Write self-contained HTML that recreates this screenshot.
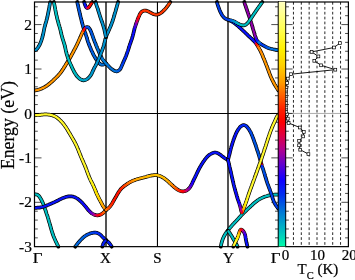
<!DOCTYPE html>
<html lang="en"><head><meta charset="utf-8"><title>Band structure</title>
<style>html,body{margin:0;padding:0;background:#fff;overflow:hidden}svg{display:block}</style></head>
<body>
<svg width="355" height="280" viewBox="0 0 355 280">
<defs><clipPath id="cp"><rect x="34.5" y="-0.5" width="243.8" height="249.65"/></clipPath>
<linearGradient id="cb" x1="0" y1="0" x2="0" y2="1"><stop offset="0.0000" stop-color="#ffffc0"/><stop offset="0.1144" stop-color="#ffff50"/><stop offset="0.1962" stop-color="#fff000"/><stop offset="0.2616" stop-color="#ffd000"/><stop offset="0.3270" stop-color="#ffa000"/><stop offset="0.3842" stop-color="#ff6000"/><stop offset="0.4414" stop-color="#ff2000"/><stop offset="0.4905" stop-color="#ff0000"/><stop offset="0.5436" stop-color="#e00040"/><stop offset="0.6049" stop-color="#b00090"/><stop offset="0.6663" stop-color="#6000d0"/><stop offset="0.7276" stop-color="#1000ff"/><stop offset="0.7889" stop-color="#0030f0"/><stop offset="0.8502" stop-color="#0070d8"/><stop offset="0.9115" stop-color="#00a8c8"/><stop offset="0.9646" stop-color="#00d8b8"/><stop offset="1.0002" stop-color="#00ffa8"/></linearGradient></defs>
<rect width="355" height="280" fill="#fff"/>
<g stroke="#000" stroke-width="0.85" stroke-dasharray="2.7,2.2"><line x1="293.45" y1="2.0" x2="293.45" y2="246.65"/><line x1="301.30" y1="2.0" x2="301.30" y2="246.65"/><line x1="309.15" y1="2.0" x2="309.15" y2="246.65"/><line x1="317.00" y1="2.0" x2="317.00" y2="246.65"/><line x1="324.85" y1="2.0" x2="324.85" y2="246.65"/><line x1="332.70" y1="2.0" x2="332.70" y2="246.65"/><line x1="340.55" y1="2.0" x2="340.55" y2="246.65"/></g>
<g stroke="#000" stroke-width="1">
<line x1="106.0" y1="2.0" x2="106.0" y2="246.65" stroke-width="1.35"/>
<line x1="157.45" y1="2.0" x2="157.45" y2="246.65" stroke-width="1.1"/>
<line x1="228.0" y1="2.0" x2="228.0" y2="246.65" stroke-width="1.35"/>
<line x1="34.5" y1="113.5" x2="278.3" y2="113.5"/>
</g>
<line x1="285.6" y1="113.45" x2="348.4" y2="113.45" stroke="#777" stroke-width="0.6"/>
<g stroke="#000" stroke-width="0.7"><line x1="34.5" y1="237.85" x2="37.8" y2="237.85"/><line x1="278.3" y1="237.85" x2="275.0" y2="237.85"/><line x1="285.6" y1="237.85" x2="288.90000000000003" y2="237.85"/><line x1="348.4" y1="237.85" x2="345.09999999999997" y2="237.85"/><line x1="34.5" y1="228.97" x2="37.8" y2="228.97"/><line x1="278.3" y1="228.97" x2="275.0" y2="228.97"/><line x1="285.6" y1="228.97" x2="288.90000000000003" y2="228.97"/><line x1="348.4" y1="228.97" x2="345.09999999999997" y2="228.97"/><line x1="34.5" y1="220.08" x2="37.8" y2="220.08"/><line x1="278.3" y1="220.08" x2="275.0" y2="220.08"/><line x1="285.6" y1="220.08" x2="288.90000000000003" y2="220.08"/><line x1="348.4" y1="220.08" x2="345.09999999999997" y2="220.08"/><line x1="34.5" y1="211.20" x2="37.8" y2="211.20"/><line x1="278.3" y1="211.20" x2="275.0" y2="211.20"/><line x1="285.6" y1="211.20" x2="288.90000000000003" y2="211.20"/><line x1="348.4" y1="211.20" x2="345.09999999999997" y2="211.20"/><line x1="34.5" y1="202.31" x2="41.5" y2="202.31"/><line x1="278.3" y1="202.31" x2="271.3" y2="202.31"/><line x1="285.6" y1="202.31" x2="292.6" y2="202.31"/><line x1="348.4" y1="202.31" x2="341.4" y2="202.31"/><line x1="34.5" y1="193.42" x2="37.8" y2="193.42"/><line x1="278.3" y1="193.42" x2="275.0" y2="193.42"/><line x1="285.6" y1="193.42" x2="288.90000000000003" y2="193.42"/><line x1="348.4" y1="193.42" x2="345.09999999999997" y2="193.42"/><line x1="34.5" y1="184.54" x2="37.8" y2="184.54"/><line x1="278.3" y1="184.54" x2="275.0" y2="184.54"/><line x1="285.6" y1="184.54" x2="288.90000000000003" y2="184.54"/><line x1="348.4" y1="184.54" x2="345.09999999999997" y2="184.54"/><line x1="34.5" y1="175.65" x2="37.8" y2="175.65"/><line x1="278.3" y1="175.65" x2="275.0" y2="175.65"/><line x1="285.6" y1="175.65" x2="288.90000000000003" y2="175.65"/><line x1="348.4" y1="175.65" x2="345.09999999999997" y2="175.65"/><line x1="34.5" y1="166.77" x2="37.8" y2="166.77"/><line x1="278.3" y1="166.77" x2="275.0" y2="166.77"/><line x1="285.6" y1="166.77" x2="288.90000000000003" y2="166.77"/><line x1="348.4" y1="166.77" x2="345.09999999999997" y2="166.77"/><line x1="34.5" y1="157.88" x2="41.5" y2="157.88"/><line x1="278.3" y1="157.88" x2="271.3" y2="157.88"/><line x1="285.6" y1="157.88" x2="292.6" y2="157.88"/><line x1="348.4" y1="157.88" x2="341.4" y2="157.88"/><line x1="34.5" y1="148.99" x2="37.8" y2="148.99"/><line x1="278.3" y1="148.99" x2="275.0" y2="148.99"/><line x1="285.6" y1="148.99" x2="288.90000000000003" y2="148.99"/><line x1="348.4" y1="148.99" x2="345.09999999999997" y2="148.99"/><line x1="34.5" y1="140.11" x2="37.8" y2="140.11"/><line x1="278.3" y1="140.11" x2="275.0" y2="140.11"/><line x1="285.6" y1="140.11" x2="288.90000000000003" y2="140.11"/><line x1="348.4" y1="140.11" x2="345.09999999999997" y2="140.11"/><line x1="34.5" y1="131.22" x2="37.8" y2="131.22"/><line x1="278.3" y1="131.22" x2="275.0" y2="131.22"/><line x1="285.6" y1="131.22" x2="288.90000000000003" y2="131.22"/><line x1="348.4" y1="131.22" x2="345.09999999999997" y2="131.22"/><line x1="34.5" y1="122.34" x2="37.8" y2="122.34"/><line x1="278.3" y1="122.34" x2="275.0" y2="122.34"/><line x1="285.6" y1="122.34" x2="288.90000000000003" y2="122.34"/><line x1="348.4" y1="122.34" x2="345.09999999999997" y2="122.34"/><line x1="34.5" y1="113.45" x2="41.5" y2="113.45"/><line x1="278.3" y1="113.45" x2="271.3" y2="113.45"/><line x1="285.6" y1="113.45" x2="292.6" y2="113.45"/><line x1="348.4" y1="113.45" x2="341.4" y2="113.45"/><line x1="34.5" y1="104.56" x2="37.8" y2="104.56"/><line x1="278.3" y1="104.56" x2="275.0" y2="104.56"/><line x1="285.6" y1="104.56" x2="288.90000000000003" y2="104.56"/><line x1="348.4" y1="104.56" x2="345.09999999999997" y2="104.56"/><line x1="34.5" y1="95.68" x2="37.8" y2="95.68"/><line x1="278.3" y1="95.68" x2="275.0" y2="95.68"/><line x1="285.6" y1="95.68" x2="288.90000000000003" y2="95.68"/><line x1="348.4" y1="95.68" x2="345.09999999999997" y2="95.68"/><line x1="34.5" y1="86.79" x2="37.8" y2="86.79"/><line x1="278.3" y1="86.79" x2="275.0" y2="86.79"/><line x1="285.6" y1="86.79" x2="288.90000000000003" y2="86.79"/><line x1="348.4" y1="86.79" x2="345.09999999999997" y2="86.79"/><line x1="34.5" y1="77.91" x2="37.8" y2="77.91"/><line x1="278.3" y1="77.91" x2="275.0" y2="77.91"/><line x1="285.6" y1="77.91" x2="288.90000000000003" y2="77.91"/><line x1="348.4" y1="77.91" x2="345.09999999999997" y2="77.91"/><line x1="34.5" y1="69.02" x2="41.5" y2="69.02"/><line x1="278.3" y1="69.02" x2="271.3" y2="69.02"/><line x1="285.6" y1="69.02" x2="292.6" y2="69.02"/><line x1="348.4" y1="69.02" x2="341.4" y2="69.02"/><line x1="34.5" y1="60.13" x2="37.8" y2="60.13"/><line x1="278.3" y1="60.13" x2="275.0" y2="60.13"/><line x1="285.6" y1="60.13" x2="288.90000000000003" y2="60.13"/><line x1="348.4" y1="60.13" x2="345.09999999999997" y2="60.13"/><line x1="34.5" y1="51.25" x2="37.8" y2="51.25"/><line x1="278.3" y1="51.25" x2="275.0" y2="51.25"/><line x1="285.6" y1="51.25" x2="288.90000000000003" y2="51.25"/><line x1="348.4" y1="51.25" x2="345.09999999999997" y2="51.25"/><line x1="34.5" y1="42.36" x2="37.8" y2="42.36"/><line x1="278.3" y1="42.36" x2="275.0" y2="42.36"/><line x1="285.6" y1="42.36" x2="288.90000000000003" y2="42.36"/><line x1="348.4" y1="42.36" x2="345.09999999999997" y2="42.36"/><line x1="34.5" y1="33.48" x2="37.8" y2="33.48"/><line x1="278.3" y1="33.48" x2="275.0" y2="33.48"/><line x1="285.6" y1="33.48" x2="288.90000000000003" y2="33.48"/><line x1="348.4" y1="33.48" x2="345.09999999999997" y2="33.48"/><line x1="34.5" y1="24.59" x2="41.5" y2="24.59"/><line x1="278.3" y1="24.59" x2="271.3" y2="24.59"/><line x1="285.6" y1="24.59" x2="292.6" y2="24.59"/><line x1="348.4" y1="24.59" x2="341.4" y2="24.59"/><line x1="34.5" y1="15.70" x2="37.8" y2="15.70"/><line x1="278.3" y1="15.70" x2="275.0" y2="15.70"/><line x1="285.6" y1="15.70" x2="288.90000000000003" y2="15.70"/><line x1="348.4" y1="15.70" x2="345.09999999999997" y2="15.70"/><line x1="34.5" y1="6.82" x2="37.8" y2="6.82"/><line x1="278.3" y1="6.82" x2="275.0" y2="6.82"/><line x1="285.6" y1="6.82" x2="288.90000000000003" y2="6.82"/><line x1="348.4" y1="6.82" x2="345.09999999999997" y2="6.82"/></g>
<g clip-path="url(#cp)">
<path d="M34.5,194.3 35.5,194.4 36.5,194.5 37.5,194.8 38.3,195.4 39,196.1 39.6,196.9 40.1,197.8 40.7,198.7 41.2,199.5 41.6,200.4 42.1,201.3 42.5,202.2 42.9,203.1 43.3,204 43.6,205 44,205.9 44.3,206.8 44.6,207.8 44.9,208.7 45.3,209.7 45.6,210.7 45.9,211.6 46.2,212.5 46.5,213.5 46.8,214.4 47.2,215.4 47.5,216.3 47.8,217.3 48.1,218.3 48.4,219.2 48.6,220.2 48.9,221.1 49.2,222.1 49.5,223 49.8,224 50,225 50.3,225.9 50.6,226.9 50.9,227.9 51.1,228.8 51.4,229.8 51.7,230.7 52,231.7 52.3,232.7 52.6,233.6 52.9,234.5 53.3,235.5 53.6,236.4 54,237.3 54.4,238.3 54.8,239.2 55.2,240.1 55.6,241 56,241.9 56.5,242.8 56.9,243.7 57.3,244.6 57.8,245.5 58.2,246.4 58.3,246.7" stroke="#000" stroke-width="3.7" fill="none" stroke-linejoin="round" stroke-linecap="round"/>
<path d="M34.5,194.3 35.5,194.4 36.5,194.5 37.5,194.8 38.3,195.4 39,196.1 39.6,196.9 40.1,197.8 40.7,198.7 41.2,199.5 41.6,200.4 42.1,201.3 42.5,202.2 42.9,203.1 43.3,204 43.6,205 44,205.9 44.3,206.8 44.6,207.8 44.9,208.7 45.3,209.7 45.6,210.7 45.9,211.6 46.2,212.5 46.5,213.5 46.8,214.4 47.2,215.4 47.5,216.3 47.8,217.3 48.1,218.3 48.4,219.2 48.6,220.2 48.9,221.1 49.2,222.1 49.5,223 49.8,224 50,225 50.3,225.9 50.6,226.9 50.9,227.9 51.1,228.8 51.4,229.8 51.7,230.7 52,231.7 52.3,232.7 52.6,233.6 52.9,234.5 53.3,235.5 53.6,236.4 54,237.3 54.4,238.3 54.8,239.2 55.2,240.1 55.6,241 56,241.9 56.5,242.8 56.9,243.7 57.3,244.6 57.8,245.5 58.2,246.4 58.3,246.7" stroke="#00bec1" stroke-width="2.25" fill="none" stroke-linejoin="round" stroke-linecap="butt"/>
<path d="M278.3,194.6 277.3,194.6 276.3,194.6 275.3,194.6 274.3,194.7 273.3,194.8 272.3,194.9 271.3,195 270.3,195.2 269.3,195.4 268.3,195.6 267.3,195.9 266.4,196.2 265.4,196.5 264.5,196.8 263.5,197.2 262.6,197.6 261.7,198 260.8,198.5 259.9,198.9 259,199.5 258.2,200 257.4,200.6 256.6,201.2 255.8,201.8 255,202.4 254.2,203.1 253.4,203.7 252.7,204.4 252,205.1 251.2,205.8 250.5,206.5 249.8,207.1 249,207.8 248.3,208.5 247.6,209.2 246.8,209.9 246.1,210.6 245.4,211.3 244.6,212 243.9,212.7 243.2,213.4 242.5,214.1 241.8,214.8 241.1,215.6 240.5,216.3 239.8,217.1 239.1,217.8 238.4,218.6 237.8,219.3 237.1,220 236.4,220.8 235.7,221.5 235,222.2 234.3,222.9 233.6,223.7 232.9,224.4 232.2,225.2 231.6,225.9 230.9,226.7 230.3,227.4 229.6,228.2 229,229 228.4,229.8 227.8,230.6 227.1,231.4 226.5,232.2 226,233 225.4,233.9 224.9,234.7 224.4,235.6 223.9,236.5 223.5,237.4 223.1,238.3 222.7,239.2 222.4,240.2 222.1,241.2 221.8,242.1 221.5,243.1 221.3,244.1 221.1,245.1 220.9,246.1 220.8,246.7" stroke="#000" stroke-width="3.7" fill="none" stroke-linejoin="round" stroke-linecap="round"/>
<path d="M278.3,194.6 277.3,194.6 276.3,194.6 275.3,194.6 274.3,194.7 273.3,194.8 272.3,194.9 271.3,195 270.3,195.2 269.3,195.4 268.3,195.6 267.3,195.9 266.4,196.2 265.4,196.5 264.5,196.8 263.5,197.2 262.6,197.6 261.7,198 260.8,198.5 259.9,198.9 259,199.5 258.2,200 257.4,200.6 256.6,201.2 255.8,201.8 255,202.4 254.2,203.1 253.4,203.7 252.7,204.4 252,205.1 251.2,205.8 250.5,206.5 249.8,207.1 249,207.8 248.3,208.5 247.6,209.2 246.8,209.9 246.1,210.6 245.4,211.3 244.6,212 243.9,212.7 243.2,213.4 242.5,214.1 241.8,214.8 241.1,215.6 240.5,216.3 239.8,217.1 239.1,217.8 238.4,218.6 237.8,219.3 237.1,220 236.4,220.8 235.7,221.5 235,222.2 234.3,222.9 233.6,223.7 232.9,224.4 232.2,225.2 231.6,225.9 230.9,226.7 230.3,227.4 229.6,228.2 229,229 228.4,229.8 227.8,230.6 227.1,231.4 226.5,232.2 226,233 225.4,233.9 224.9,234.7 224.4,235.6 223.9,236.5 223.5,237.4 223.1,238.3 222.7,239.2 222.4,240.2 222.1,241.2 221.8,242.1 221.5,243.1 221.3,244.1 221.1,245.1 220.9,246.1 220.8,246.7" stroke="#00bec1" stroke-width="2.25" fill="none" stroke-linejoin="round" stroke-linecap="butt"/>
<path d="M227.9,230.4 228.5,231.2 229,232.1 229.6,232.9 230.2,233.8 230.7,234.6 231.3,235.5 231.8,236.3 232.3,237.2 232.8,238.1 233.3,239 233.8,239.8 234.3,240.7 234.8,241.6 235.3,242.5 235.8,243.4 236.3,244.3 236.8,245.1 237.3,246 237.6,246.7" stroke="#000" stroke-width="3.7" fill="none" stroke-linejoin="round" stroke-linecap="round"/>
<path d="M227.9,230.4 228.5,231.2 229,232.1 229.6,232.9 230.2,233.8 230.7,234.6 231.3,235.5 231.8,236.3 232.3,237.2 232.8,238.1 233.3,239 233.8,239.8 234.3,240.7 234.8,241.6 235.3,242.5 235.8,243.4 236.3,244.3 236.8,245.1 237.3,246 237.6,246.7" stroke="#00bec1" stroke-width="2.25" fill="none" stroke-linejoin="round" stroke-linecap="butt"/>
<path d="M34.5,207.8 35.5,207.8 36.5,207.8 37.5,207.7 38.5,207.7 39.5,207.6 40.5,207.4 41.5,207.2 42.5,207 43.4,206.7 44.4,206.4 45.4,206 46.3,205.7 47.2,205.3 48.2,204.9 49.1,204.5 50,204.1 50.9,203.7 51.9,203.3 52.8,202.9 53.7,202.5 54.6,202.1 55.5,201.6 56.4,201.2 57.3,200.8 58.2,200.3 59.1,199.8 60,199.4 60.9,199 61.8,198.5 62.7,198.1 63.7,197.7 64.6,197.4 65.6,197.1 66.6,196.8 67.5,196.6 68.5,196.4 69.5,196.3 70.6,196.3 71.6,196.4 72.6,196.5 73.5,196.8 74.5,197.1 75.4,197.5 76.3,198 77.2,198.5 78,199.1 78.8,199.7 79.6,200.4 80.3,201 81.1,201.7 81.8,202.4 82.5,203.1 83.2,203.9 83.8,204.6 84.5,205.4 85.1,206.1 85.8,206.9 86.4,207.7 87,208.5 87.7,209.3 88.3,210.1 89,210.8 89.7,211.5 90.4,212.2 91.2,212.9 92,213.5 92.9,214 93.8,214.5 94.7,214.9 95.7,215.1 96.7,215.3 97.7,215.3 98.7,215.2 99.7,214.9 100.7,214.6 101.6,214.1 102.4,213.5 103.2,212.9 103.9,212.2 104.6,211.5 105.3,210.8 106,210" stroke="#000" stroke-width="3.7" fill="none" stroke-linejoin="round" stroke-linecap="round"/>
<path d="M34.5,207.8 35.5,207.8 36.5,207.8 37.5,207.7 38.5,207.7 39.5,207.6 40.5,207.4 41.5,207.2 42.5,207 43.4,206.7 44.4,206.4 45.4,206 46.3,205.7 47.2,205.3 48.2,204.9 49.1,204.5 50,204.1 50.9,203.7 51.9,203.3 52.8,202.9 53.7,202.5 54.6,202.1 55.5,201.6 56.4,201.2 57.3,200.8 58.2,200.3 59.1,199.8 60,199.4 60.9,199 61.8,198.5 62.7,198.1 63.7,197.7 64.6,197.4 65.6,197.1 66.6,196.8 67.5,196.6 68.5,196.4 69.5,196.3 70.6,196.3 71.6,196.4 72.6,196.5 73.5,196.8 74.5,197.1 75.4,197.5 76.3,198 77.2,198.5 78,199.1 78.8,199.7 79.6,200.4 80.3,201 81.1,201.7 81.8,202.4 82.5,203.1 83.2,203.9" stroke="#0a13f9" stroke-width="2.25" fill="none" stroke-linejoin="round" stroke-linecap="butt"/>
<path d="M83.2,203.9 83.8,204.6 84.5,205.4 85.1,206.1 85.8,206.9" stroke="#0d0afc" stroke-width="2.25" fill="none" stroke-linejoin="round" stroke-linecap="round"/>
<path d="M85.8,206.9 86.4,207.7 87,208.5" stroke="#1000ff" stroke-width="2.25" fill="none" stroke-linejoin="round" stroke-linecap="round"/>
<path d="M87,208.5 87.7,209.3 88.3,210.1 89,210.8" stroke="#2000f6" stroke-width="2.25" fill="none" stroke-linejoin="round" stroke-linecap="round"/>
<path d="M89,210.8 89.7,211.5" stroke="#3000ec" stroke-width="2.25" fill="none" stroke-linejoin="round" stroke-linecap="round"/>
<path d="M89.7,211.5 90.4,212.2" stroke="#4000e3" stroke-width="2.25" fill="none" stroke-linejoin="round" stroke-linecap="round"/>
<path d="M90.4,212.2 91.2,212.9" stroke="#5000d9" stroke-width="2.25" fill="none" stroke-linejoin="round" stroke-linecap="round"/>
<path d="M91.2,212.9 92,213.5" stroke="#6000d0" stroke-width="2.25" fill="none" stroke-linejoin="round" stroke-linecap="round"/>
<path d="M92,213.5 92.9,214" stroke="#7000c3" stroke-width="2.25" fill="none" stroke-linejoin="round" stroke-linecap="round"/>
<path d="M92.9,214 93.8,214.5" stroke="#8000b6" stroke-width="2.25" fill="none" stroke-linejoin="round" stroke-linecap="round"/>
<path d="M93.8,214.5 94.7,214.9" stroke="#a0009d" stroke-width="2.25" fill="none" stroke-linejoin="round" stroke-linecap="round"/>
<path d="M94.7,214.9 95.7,215.1" stroke="#ba0080" stroke-width="2.25" fill="none" stroke-linejoin="round" stroke-linecap="round"/>
<path d="M95.7,215.1 96.7,215.3" stroke="#cd0060" stroke-width="2.25" fill="none" stroke-linejoin="round" stroke-linecap="round"/>
<path d="M96.7,215.3 97.7,215.3" stroke="#e00040" stroke-width="2.25" fill="none" stroke-linejoin="round" stroke-linecap="round"/>
<path d="M97.7,215.3 98.7,215.2" stroke="#ee0022" stroke-width="2.25" fill="none" stroke-linejoin="round" stroke-linecap="round"/>
<path d="M98.7,215.2 99.7,214.9" stroke="#fd0005" stroke-width="2.25" fill="none" stroke-linejoin="round" stroke-linecap="round"/>
<path d="M99.7,214.9 100.7,214.6" stroke="#ff0d00" stroke-width="2.25" fill="none" stroke-linejoin="round" stroke-linecap="round"/>
<path d="M100.7,214.6 101.6,214.1" stroke="#ff1500" stroke-width="2.25" fill="none" stroke-linejoin="round" stroke-linecap="round"/>
<path d="M101.6,214.1 102.4,213.5" stroke="#ff2900" stroke-width="2.25" fill="none" stroke-linejoin="round" stroke-linecap="round"/>
<path d="M102.4,213.5 103.2,212.9" stroke="#ff4500" stroke-width="2.25" fill="none" stroke-linejoin="round" stroke-linecap="round"/>
<path d="M103.2,212.9 103.9,212.2" stroke="#ff5200" stroke-width="2.25" fill="none" stroke-linejoin="round" stroke-linecap="round"/>
<path d="M103.9,212.2 104.6,211.5" stroke="#ff6000" stroke-width="2.25" fill="none" stroke-linejoin="round" stroke-linecap="round"/>
<path d="M104.6,211.5 105.3,210.8" stroke="#ff6e00" stroke-width="2.25" fill="none" stroke-linejoin="round" stroke-linecap="round"/>
<path d="M105.3,210.8 106,210" stroke="#ff7b00" stroke-width="2.25" fill="none" stroke-linejoin="round" stroke-linecap="round"/>
<path d="M34.5,115.3 35.5,115.2 36.5,115.1 37.5,115 38.5,115 39.5,114.9 40.5,114.8 41.5,114.7 42.5,114.6 43.5,114.5 44.5,114.4 45.5,114.4 46.5,114.4 47.5,114.5 48.5,114.6 49.5,114.7 50.5,114.9 51.5,115.1 52.5,115.4 53.4,115.7 54.3,116.1 55.2,116.5 56.1,117 56.9,117.6 57.7,118.2 58.5,118.8 59.3,119.5 60,120.2 60.7,120.9 61.4,121.6 62.1,122.4 62.8,123.1 63.4,123.9 64,124.7 64.6,125.5 65.2,126.3 65.8,127.1 66.3,128 66.9,128.8 67.4,129.7 67.9,130.5 68.4,131.4 68.9,132.3 69.5,133.1 70,134 70.5,134.9 71,135.7 71.5,136.6 72,137.5 72.5,138.3 73,139.2 73.5,140.1 74,140.9 74.5,141.8 74.9,142.7 75.4,143.6 75.9,144.5 76.3,145.4 76.7,146.3 77.1,147.2 77.5,148.1 77.9,149.1 78.3,150 78.7,150.9 79,151.9 79.4,152.8 79.8,153.7 80.2,154.7 80.5,155.6 80.9,156.5 81.3,157.4 81.7,158.4 82.1,159.3 82.5,160.2 82.9,161.1 83.3,162 83.7,163 84.1,163.9 84.5,164.8 84.9,165.7 85.3,166.7 85.6,167.6 86,168.5 86.4,169.5 86.7,170.4 87,171.4 87.4,172.3 87.7,173.3 88.1,174.2 88.5,175.1 88.8,176.1 89.2,177 89.6,177.9 90,178.8 90.4,179.7 90.8,180.6 91.3,181.5 91.7,182.4 92.2,183.3 92.6,184.2 93.1,185.1 93.5,186.1 93.9,187 94.3,187.9 94.7,188.8 95.1,189.7 95.5,190.7 95.8,191.6 96.2,192.5 96.6,193.5 97,194.4 97.5,195.3 97.9,196.2 98.3,197.1 98.8,198 99.2,198.9 99.7,199.8 100.2,200.7 100.6,201.5 101.1,202.4 101.6,203.3 102,204.2 102.5,205.1 103,206 103.6,206.8 104.1,207.6 104.7,208.4 105.4,209.2 106,210" stroke="#000" stroke-width="3.7" fill="none" stroke-linejoin="round" stroke-linecap="round"/>
<path d="M34.5,115.3 35.5,115.2 36.5,115.1 37.5,115 38.5,115 39.5,114.9 40.5,114.8 41.5,114.7 42.5,114.6 43.5,114.5 44.5,114.4 45.5,114.4 46.5,114.4 47.5,114.5 48.5,114.6 49.5,114.7 50.5,114.9 51.5,115.1 52.5,115.4 53.4,115.7 54.3,116.1 55.2,116.5 56.1,117 56.9,117.6 57.7,118.2 58.5,118.8 59.3,119.5 60,120.2 60.7,120.9 61.4,121.6 62.1,122.4 62.8,123.1 63.4,123.9 64,124.7 64.6,125.5 65.2,126.3 65.8,127.1 66.3,128 66.9,128.8 67.4,129.7 67.9,130.5 68.4,131.4 68.9,132.3 69.5,133.1 70,134 70.5,134.9 71,135.7 71.5,136.6 72,137.5 72.5,138.3 73,139.2 73.5,140.1 74,140.9 74.5,141.8 74.9,142.7 75.4,143.6 75.9,144.5 76.3,145.4 76.7,146.3 77.1,147.2 77.5,148.1 77.9,149.1 78.3,150 78.7,150.9 79,151.9 79.4,152.8 79.8,153.7 80.2,154.7 80.5,155.6 80.9,156.5 81.3,157.4 81.7,158.4 82.1,159.3 82.5,160.2 82.9,161.1 83.3,162 83.7,163 84.1,163.9 84.5,164.8 84.9,165.7 85.3,166.7 85.6,167.6 86,168.5 86.4,169.5 86.7,170.4 87,171.4 87.4,172.3 87.7,173.3 88.1,174.2 88.5,175.1 88.8,176.1 89.2,177 89.6,177.9 90,178.8 90.4,179.7 90.8,180.6" stroke="#fff82c" stroke-width="2.25" fill="none" stroke-linejoin="round" stroke-linecap="butt"/>
<path d="M90.8,180.6 91.3,181.5 91.7,182.4 92.2,183.3 92.6,184.2" stroke="#fff620" stroke-width="2.25" fill="none" stroke-linejoin="round" stroke-linecap="round"/>
<path d="M92.6,184.2 93.1,185.1 93.5,186.1 93.9,187" stroke="#fff414" stroke-width="2.25" fill="none" stroke-linejoin="round" stroke-linecap="round"/>
<path d="M93.9,187 94.3,187.9 94.7,188.8" stroke="#fff208" stroke-width="2.25" fill="none" stroke-linejoin="round" stroke-linecap="round"/>
<path d="M94.7,188.8 95.1,189.7 95.5,190.7" stroke="#ffee00" stroke-width="2.25" fill="none" stroke-linejoin="round" stroke-linecap="round"/>
<path d="M95.5,190.7 95.8,191.6 96.2,192.5 96.6,193.5" stroke="#ffe800" stroke-width="2.25" fill="none" stroke-linejoin="round" stroke-linecap="round"/>
<path d="M96.6,193.5 97,194.4 97.5,195.3" stroke="#ffe200" stroke-width="2.25" fill="none" stroke-linejoin="round" stroke-linecap="round"/>
<path d="M97.5,195.3 97.9,196.2" stroke="#ffdc00" stroke-width="2.25" fill="none" stroke-linejoin="round" stroke-linecap="round"/>
<path d="M97.9,196.2 98.3,197.1 98.8,198" stroke="#ffd600" stroke-width="2.25" fill="none" stroke-linejoin="round" stroke-linecap="round"/>
<path d="M98.8,198 99.2,198.9 99.7,199.8" stroke="#ffd000" stroke-width="2.25" fill="none" stroke-linejoin="round" stroke-linecap="round"/>
<path d="M99.7,199.8 100.2,200.7" stroke="#ffc700" stroke-width="2.25" fill="none" stroke-linejoin="round" stroke-linecap="round"/>
<path d="M100.2,200.7 100.6,201.5 101.1,202.4" stroke="#ffbe00" stroke-width="2.25" fill="none" stroke-linejoin="round" stroke-linecap="round"/>
<path d="M101.1,202.4 101.6,203.3 102,204.2" stroke="#ffb500" stroke-width="2.25" fill="none" stroke-linejoin="round" stroke-linecap="round"/>
<path d="M102,204.2 102.5,205.1 103,206" stroke="#ffac00" stroke-width="2.25" fill="none" stroke-linejoin="round" stroke-linecap="round"/>
<path d="M103,206 103.6,206.8 104.1,207.6" stroke="#ffa300" stroke-width="2.25" fill="none" stroke-linejoin="round" stroke-linecap="round"/>
<path d="M104.1,207.6 104.7,208.4 105.4,209.2" stroke="#ff9700" stroke-width="2.25" fill="none" stroke-linejoin="round" stroke-linecap="round"/>
<path d="M105.4,209.2 106,210" stroke="#ff8900" stroke-width="2.25" fill="none" stroke-linejoin="round" stroke-linecap="round"/>
<path d="M106,210 106.8,209.4 107.6,208.8 108.4,208.2 109.1,207.5 109.8,206.8 110.4,206 111,205.2 111.6,204.3 112.1,203.5 112.6,202.6 113.1,201.7 113.6,200.8 114.1,199.9 114.6,199.1 115.1,198.2 115.6,197.3 116.1,196.5 116.6,195.6 117.1,194.7 117.6,193.8 118.1,193 118.6,192.1 119.2,191.3 119.8,190.5 120.4,189.7 121,188.9 121.7,188.2 122.4,187.5 123.2,186.9 124,186.2 124.8,185.6 125.6,185.1 126.4,184.5 127.3,183.9 128.1,183.3 129,182.8 129.8,182.3 130.7,181.8 131.6,181.4 132.5,180.9 133.4,180.6 134.4,180.2 135.3,179.8 136.3,179.5 137.2,179.2 138.2,178.9 139.1,178.7 140.1,178.4 141.1,178.2 142,177.9 143,177.7 144,177.4 145,177.2 146,176.9 146.9,176.6 147.9,176.4 148.9,176.1 149.9,175.8 150.9,175.6 151.9,175.4 152.9,175.3 153.9,175.2 154.9,175.1 155.9,175.1 156.9,175.2 157.9,175.4 158.8,175.7 159.8,176 160.7,176.4 161.6,176.8 162.5,177.3 163.4,177.8 164.2,178.3 165,178.9 165.8,179.5 166.6,180.2 167.4,180.8 168.1,181.5 168.9,182.2 169.6,182.9 170.3,183.6 171,184.2 171.8,184.9 172.5,185.6 173.3,186.2 174,186.9 174.8,187.5 175.6,188.2 176.4,188.8 177.2,189.4 178.1,189.9 179,190.4 179.9,190.8 180.9,191.1 181.9,191.3 182.9,191.3 183.9,191.3 184.9,191.1 185.8,190.8 186.7,190.3 187.6,189.7 188.4,189.1 189.1,188.4 189.7,187.6 190.3,186.8 190.8,185.9 191.3,185.1 191.8,184.2 192.2,183.3 192.6,182.3 193,181.4 193.5,180.5 193.9,179.6 194.3,178.7 194.8,177.8 195.2,176.9 195.6,176 196.1,175.1 196.5,174.2 196.9,173.3 197.3,172.4 197.8,171.5 198.2,170.6 198.7,169.7 199.1,168.8 199.6,167.9 200.1,167 200.6,166.2 201.1,165.3 201.6,164.4 202.2,163.6 202.7,162.7 203.2,161.9 203.8,161.1 204.4,160.3 205,159.4 205.6,158.7 206.2,157.9 206.9,157.1 207.6,156.4 208.3,155.7 209.1,155.1 209.9,154.5 210.8,154 211.7,153.5 212.6,153.1 213.6,152.7 214.5,152.5 215.5,152.5 216.5,152.7 217.5,153.1 218.4,153.5 219.3,154.1 220.1,154.6 220.9,155.2 221.7,155.9 222.5,156.5 223.3,157.1 224.1,157.7 224.9,158.2 225.8,158.8 226.7,159.2 227.5,159.7 228,159.9" stroke="#000" stroke-width="3.7" fill="none" stroke-linejoin="round" stroke-linecap="round"/>
<path d="M106,210 106.8,209.4" stroke="#ff7b00" stroke-width="2.25" fill="none" stroke-linejoin="round" stroke-linecap="round"/>
<path d="M106.8,209.4 107.6,208.8" stroke="#ff6e00" stroke-width="2.25" fill="none" stroke-linejoin="round" stroke-linecap="round"/>
<path d="M107.6,208.8 108.4,208.2" stroke="#ff6000" stroke-width="2.25" fill="none" stroke-linejoin="round" stroke-linecap="round"/>
<path d="M108.4,208.2 109.1,207.5" stroke="#ff5200" stroke-width="2.25" fill="none" stroke-linejoin="round" stroke-linecap="round"/>
<path d="M109.1,207.5 109.8,206.8 110.4,206" stroke="#ff4500" stroke-width="2.25" fill="none" stroke-linejoin="round" stroke-linecap="round"/>
<path d="M110.4,206 111,205.2 111.6,204.3" stroke="#ff3700" stroke-width="2.25" fill="none" stroke-linejoin="round" stroke-linecap="round"/>
<path d="M111.6,204.3 112.1,203.5 112.6,202.6" stroke="#ff2900" stroke-width="2.25" fill="none" stroke-linejoin="round" stroke-linecap="round"/>
<path d="M112.6,202.6 113.1,201.7 113.6,200.8" stroke="#ff1d00" stroke-width="2.25" fill="none" stroke-linejoin="round" stroke-linecap="round"/>
<path d="M113.6,200.8 114.1,199.9 114.6,199.1 115.1,198.2 115.6,197.3 116.1,196.5 116.6,195.6 117.1,194.7" stroke="#ff1500" stroke-width="2.25" fill="none" stroke-linejoin="round" stroke-linecap="round"/>
<path d="M117.1,194.7 117.6,193.8 118.1,193" stroke="#ff0d00" stroke-width="2.25" fill="none" stroke-linejoin="round" stroke-linecap="round"/>
<path d="M118.1,193 118.6,192.1 119.2,191.3 119.8,190.5" stroke="#ff1500" stroke-width="2.25" fill="none" stroke-linejoin="round" stroke-linecap="round"/>
<path d="M119.8,190.5 120.4,189.7 121,188.9 121.7,188.2" stroke="#ff1d00" stroke-width="2.25" fill="none" stroke-linejoin="round" stroke-linecap="round"/>
<path d="M121.7,188.2 122.4,187.5 123.2,186.9" stroke="#ff2900" stroke-width="2.25" fill="none" stroke-linejoin="round" stroke-linecap="round"/>
<path d="M123.2,186.9 124,186.2 124.8,185.6" stroke="#ff3700" stroke-width="2.25" fill="none" stroke-linejoin="round" stroke-linecap="round"/>
<path d="M124.8,185.6 125.6,185.1" stroke="#ff4500" stroke-width="2.25" fill="none" stroke-linejoin="round" stroke-linecap="round"/>
<path d="M125.6,185.1 126.4,184.5 127.3,183.9" stroke="#ff5200" stroke-width="2.25" fill="none" stroke-linejoin="round" stroke-linecap="round"/>
<path d="M127.3,183.9 128.1,183.3" stroke="#ff6000" stroke-width="2.25" fill="none" stroke-linejoin="round" stroke-linecap="round"/>
<path d="M128.1,183.3 129,182.8 129.8,182.3" stroke="#ff6e00" stroke-width="2.25" fill="none" stroke-linejoin="round" stroke-linecap="round"/>
<path d="M129.8,182.3 130.7,181.8 131.6,181.4" stroke="#ff7b00" stroke-width="2.25" fill="none" stroke-linejoin="round" stroke-linecap="round"/>
<path d="M131.6,181.4 132.5,180.9 133.4,180.6" stroke="#ff8900" stroke-width="2.25" fill="none" stroke-linejoin="round" stroke-linecap="round"/>
<path d="M133.4,180.6 134.4,180.2 135.3,179.8" stroke="#ff9700" stroke-width="2.25" fill="none" stroke-linejoin="round" stroke-linecap="round"/>
<path d="M135.3,179.8 136.3,179.5 137.2,179.2" stroke="#ffa300" stroke-width="2.25" fill="none" stroke-linejoin="round" stroke-linecap="round"/>
<path d="M137.2,179.2 138.2,178.9 139.1,178.7 140.1,178.4 141.1,178.2 142,177.9" stroke="#ffac00" stroke-width="2.25" fill="none" stroke-linejoin="round" stroke-linecap="round"/>
<path d="M142,177.9 143,177.7 144,177.4 145,177.2 146,176.9 146.9,176.6 147.9,176.4" stroke="#ffb500" stroke-width="2.25" fill="none" stroke-linejoin="round" stroke-linecap="round"/>
<path d="M147.9,176.4 148.9,176.1 149.9,175.8 150.9,175.6 151.9,175.4 152.9,175.3 153.9,175.2 154.9,175.1 155.9,175.1" stroke="#ffbe00" stroke-width="2.25" fill="none" stroke-linejoin="round" stroke-linecap="round"/>
<path d="M155.9,175.1 156.9,175.2 157.9,175.4 158.8,175.7" stroke="#ffc700" stroke-width="2.25" fill="none" stroke-linejoin="round" stroke-linecap="round"/>
<path d="M158.8,175.7 159.8,176 160.7,176.4 161.6,176.8 162.5,177.3 163.4,177.8 164.2,178.3" stroke="#ffbe00" stroke-width="2.25" fill="none" stroke-linejoin="round" stroke-linecap="round"/>
<path d="M164.2,178.3 165,178.9 165.8,179.5 166.6,180.2 167.4,180.8" stroke="#ffb500" stroke-width="2.25" fill="none" stroke-linejoin="round" stroke-linecap="round"/>
<path d="M167.4,180.8 168.1,181.5 168.9,182.2" stroke="#ffac00" stroke-width="2.25" fill="none" stroke-linejoin="round" stroke-linecap="round"/>
<path d="M168.9,182.2 169.6,182.9 170.3,183.6" stroke="#ffa300" stroke-width="2.25" fill="none" stroke-linejoin="round" stroke-linecap="round"/>
<path d="M170.3,183.6 171,184.2 171.8,184.9" stroke="#ff9700" stroke-width="2.25" fill="none" stroke-linejoin="round" stroke-linecap="round"/>
<path d="M171.8,184.9 172.5,185.6 173.3,186.2" stroke="#ff8900" stroke-width="2.25" fill="none" stroke-linejoin="round" stroke-linecap="round"/>
<path d="M173.3,186.2 174,186.9" stroke="#ff7b00" stroke-width="2.25" fill="none" stroke-linejoin="round" stroke-linecap="round"/>
<path d="M174,186.9 174.8,187.5 175.6,188.2" stroke="#ff6e00" stroke-width="2.25" fill="none" stroke-linejoin="round" stroke-linecap="round"/>
<path d="M175.6,188.2 176.4,188.8" stroke="#ff6000" stroke-width="2.25" fill="none" stroke-linejoin="round" stroke-linecap="round"/>
<path d="M176.4,188.8 177.2,189.4" stroke="#ff5200" stroke-width="2.25" fill="none" stroke-linejoin="round" stroke-linecap="round"/>
<path d="M177.2,189.4 178.1,189.9" stroke="#ff4500" stroke-width="2.25" fill="none" stroke-linejoin="round" stroke-linecap="round"/>
<path d="M178.1,189.9 179,190.4" stroke="#ff3700" stroke-width="2.25" fill="none" stroke-linejoin="round" stroke-linecap="round"/>
<path d="M179,190.4 179.9,190.8" stroke="#ff2900" stroke-width="2.25" fill="none" stroke-linejoin="round" stroke-linecap="round"/>
<path d="M179.9,190.8 180.9,191.1" stroke="#ff1d00" stroke-width="2.25" fill="none" stroke-linejoin="round" stroke-linecap="round"/>
<path d="M180.9,191.1 181.9,191.3" stroke="#ff1500" stroke-width="2.25" fill="none" stroke-linejoin="round" stroke-linecap="round"/>
<path d="M181.9,191.3 182.9,191.3" stroke="#ff0500" stroke-width="2.25" fill="none" stroke-linejoin="round" stroke-linecap="round"/>
<path d="M182.9,191.3 183.9,191.3" stroke="#fd0005" stroke-width="2.25" fill="none" stroke-linejoin="round" stroke-linecap="round"/>
<path d="M183.9,191.3 184.9,191.1" stroke="#f50014" stroke-width="2.25" fill="none" stroke-linejoin="round" stroke-linecap="round"/>
<path d="M184.9,191.1 185.8,190.8" stroke="#e70031" stroke-width="2.25" fill="none" stroke-linejoin="round" stroke-linecap="round"/>
<path d="M185.8,190.8 186.7,190.3" stroke="#d60050" stroke-width="2.25" fill="none" stroke-linejoin="round" stroke-linecap="round"/>
<path d="M186.7,190.3 187.6,189.7" stroke="#c30070" stroke-width="2.25" fill="none" stroke-linejoin="round" stroke-linecap="round"/>
<path d="M187.6,189.7 188.4,189.1" stroke="#b00090" stroke-width="2.25" fill="none" stroke-linejoin="round" stroke-linecap="round"/>
<path d="M188.4,189.1 189.1,188.4" stroke="#a0009d" stroke-width="2.25" fill="none" stroke-linejoin="round" stroke-linecap="round"/>
<path d="M189.1,188.4 189.7,187.6" stroke="#8000b6" stroke-width="2.25" fill="none" stroke-linejoin="round" stroke-linecap="round"/>
<path d="M189.7,187.6 190.3,186.8" stroke="#7000c3" stroke-width="2.25" fill="none" stroke-linejoin="round" stroke-linecap="round"/>
<path d="M190.3,186.8 190.8,185.9" stroke="#6000d0" stroke-width="2.25" fill="none" stroke-linejoin="round" stroke-linecap="round"/>
<path d="M190.8,185.9 191.3,185.1" stroke="#5000d9" stroke-width="2.25" fill="none" stroke-linejoin="round" stroke-linecap="round"/>
<path d="M191.3,185.1 191.8,184.2" stroke="#4000e3" stroke-width="2.25" fill="none" stroke-linejoin="round" stroke-linecap="round"/>
<path d="M191.8,184.2 192.2,183.3" stroke="#3000ec" stroke-width="2.25" fill="none" stroke-linejoin="round" stroke-linecap="round"/>
<path d="M192.2,183.3 192.6,182.3 193,181.4" stroke="#2000f6" stroke-width="2.25" fill="none" stroke-linejoin="round" stroke-linecap="round"/>
<path d="M193,181.4 193.5,180.5 193.9,179.6" stroke="#1000ff" stroke-width="2.25" fill="none" stroke-linejoin="round" stroke-linecap="round"/>
<path d="M193.9,179.6 194.3,178.7 194.8,177.8 195.2,176.9" stroke="#0d0afc" stroke-width="2.25" fill="none" stroke-linejoin="round" stroke-linecap="round"/>
<path d="M195.2,176.9 195.6,176 196.1,175.1 196.5,174.2 196.9,173.3 197.3,172.4 197.8,171.5 198.2,170.6 198.7,169.7 199.1,168.8 199.6,167.9 200.1,167 200.6,166.2 201.1,165.3 201.6,164.4 202.2,163.6 202.7,162.7 203.2,161.9 203.8,161.1 204.4,160.3 205,159.4 205.6,158.7 206.2,157.9 206.9,157.1 207.6,156.4 208.3,155.7 209.1,155.1 209.9,154.5 210.8,154 211.7,153.5 212.6,153.1 213.6,152.7 214.5,152.5 215.5,152.5 216.5,152.7 217.5,153.1 218.4,153.5 219.3,154.1 220.1,154.6 220.9,155.2 221.7,155.9 222.5,156.5 223.3,157.1 224.1,157.7 224.9,158.2 225.8,158.8 226.7,159.2 227.5,159.7 228,159.9" stroke="#0a13f9" stroke-width="2.25" fill="none" stroke-linejoin="round" stroke-linecap="round"/>
<path d="M228,159.9 228.3,158.9 228.5,158 228.8,157 229,156 229.3,155.1 229.5,154.1 229.8,153.1 230,152.1 230.2,151.2 230.5,150.2 230.7,149.2 231,148.2 231.2,147.3 231.5,146.3 231.8,145.4 232.1,144.4 232.4,143.4 232.7,142.5 233,141.5 233.3,140.6 233.6,139.6 234,138.7 234.3,137.8 234.7,136.8 235,135.9 235.4,135 235.8,134 236.2,133.1 236.7,132.2 237.1,131.3 237.6,130.5 238.1,129.6 238.7,128.8 239.3,128 239.9,127.2 240.7,126.5 241.5,125.9 242.4,125.4 243.3,125.1 244.3,125.2 245.3,125.5 246.1,126 246.9,126.7 247.6,127.5 248.2,128.3 248.8,129.1 249.3,129.9 249.8,130.8 250.3,131.7 250.8,132.5 251.2,133.4 251.6,134.4 252,135.3 252.4,136.2 252.7,137.2 253.1,138.1 253.4,139 253.8,140 254.1,140.9 254.4,141.9 254.8,142.8 255.1,143.7 255.5,144.7 255.8,145.6 256.1,146.6 256.4,147.5 256.7,148.5 257,149.4 257.3,150.4 257.7,151.3 258,152.3 258.3,153.3 258.6,154.2 258.9,155.2 259.2,156.1 259.5,157.1 259.7,158 260,159 260.2,160 260.5,161 260.8,161.9 261.1,162.9 261.4,163.8 261.6,164.8 261.9,165.8 262.2,166.7 262.5,167.7 262.9,168.6 263.2,169.5 263.5,170.5 263.8,171.5 264.1,172.4 264.4,173.4 264.7,174.3 264.9,175.3 265.2,176.3 265.5,177.2 265.8,178.2 266.1,179.1 266.4,180.1 266.7,181.1 267,182 267.3,183 267.6,183.9 268,184.8 268.3,185.8 268.7,186.7 269,187.7 269.4,188.6 269.7,189.5 270.1,190.5 270.4,191.4 270.8,192.4 271.1,193.3 271.4,194.3 271.7,195.2 272,196.2 272.3,197.1 272.6,198.1 272.9,199.1 273.3,200 273.6,200.9 274,201.9 274.4,202.8 274.9,203.7 275.4,204.5 275.9,205.4 276.5,206.2 277.1,207 277.7,207.8 278.3,208.6" stroke="#000" stroke-width="3.7" fill="none" stroke-linejoin="round" stroke-linecap="round"/>
<path d="M228,159.9 228.3,158.9 228.5,158 228.8,157 229,156 229.3,155.1 229.5,154.1 229.8,153.1 230,152.1 230.2,151.2 230.5,150.2 230.7,149.2 231,148.2 231.2,147.3 231.5,146.3 231.8,145.4 232.1,144.4 232.4,143.4 232.7,142.5 233,141.5 233.3,140.6 233.6,139.6 234,138.7 234.3,137.8 234.7,136.8 235,135.9 235.4,135 235.8,134 236.2,133.1 236.7,132.2 237.1,131.3" stroke="#0a13f9" stroke-width="2.25" fill="none" stroke-linejoin="round" stroke-linecap="round"/>
<path d="M237.1,131.3 237.6,130.5 238.1,129.6 238.7,128.8 239.3,128 239.9,127.2 240.7,126.5" stroke="#061df6" stroke-width="2.25" fill="none" stroke-linejoin="round" stroke-linecap="round"/>
<path d="M240.7,126.5 241.5,125.9 242.4,125.4 243.3,125.1 244.3,125.2 245.3,125.5 246.1,126" stroke="#0326f3" stroke-width="2.25" fill="none" stroke-linejoin="round" stroke-linecap="round"/>
<path d="M246.1,126 246.9,126.7 247.6,127.5 248.2,128.3 248.8,129.1" stroke="#0030f0" stroke-width="2.25" fill="none" stroke-linejoin="round" stroke-linecap="round"/>
<path d="M248.8,129.1 249.3,129.9 249.8,130.8 250.3,131.7 250.8,132.5" stroke="#003deb" stroke-width="2.25" fill="none" stroke-linejoin="round" stroke-linecap="round"/>
<path d="M250.8,132.5 251.2,133.4 251.6,134.4 252,135.3 252.4,136.2 252.7,137.2 253.1,138.1 253.4,139 253.8,140 254.1,140.9" stroke="#004ae6" stroke-width="2.25" fill="none" stroke-linejoin="round" stroke-linecap="round"/>
<path d="M254.1,140.9 254.4,141.9 254.8,142.8 255.1,143.7 255.5,144.7 255.8,145.6 256.1,146.6 256.4,147.5 256.7,148.5 257,149.4 257.3,150.4 257.7,151.3 258,152.3 258.3,153.3 258.6,154.2 258.9,155.2 259.2,156.1 259.5,157.1 259.7,158" stroke="#0056e2" stroke-width="2.25" fill="none" stroke-linejoin="round" stroke-linecap="round"/>
<path d="M259.7,158 260,159" stroke="#003deb" stroke-width="2.25" fill="none" stroke-linejoin="round" stroke-linecap="round"/>
<path d="M260,159 260.2,160" stroke="#0326f3" stroke-width="2.25" fill="none" stroke-linejoin="round" stroke-linecap="round"/>
<path d="M260.2,160 260.5,161" stroke="#c30070" stroke-width="2.25" fill="none" stroke-linejoin="round" stroke-linecap="round"/>
<path d="M260.5,161 260.8,161.9 261.1,162.9 261.4,163.8 261.6,164.8" stroke="#fd0005" stroke-width="2.25" fill="none" stroke-linejoin="round" stroke-linecap="round"/>
<path d="M261.6,164.8 261.9,165.8" stroke="#e70031" stroke-width="2.25" fill="none" stroke-linejoin="round" stroke-linecap="round"/>
<path d="M261.9,165.8 262.2,166.7" stroke="#061df6" stroke-width="2.25" fill="none" stroke-linejoin="round" stroke-linecap="round"/>
<path d="M262.2,166.7 262.5,167.7" stroke="#0030f0" stroke-width="2.25" fill="none" stroke-linejoin="round" stroke-linecap="round"/>
<path d="M262.5,167.7 262.9,168.6" stroke="#003deb" stroke-width="2.25" fill="none" stroke-linejoin="round" stroke-linecap="round"/>
<path d="M262.9,168.6 263.2,169.5 263.5,170.5 263.8,171.5 264.1,172.4 264.4,173.4" stroke="#0056e2" stroke-width="2.25" fill="none" stroke-linejoin="round" stroke-linecap="round"/>
<path d="M264.4,173.4 264.7,174.3 264.9,175.3 265.2,176.3 265.5,177.2 265.8,178.2 266.1,179.1 266.4,180.1 266.7,181.1 267,182 267.3,183 267.6,183.9 268,184.8 268.3,185.8 268.7,186.7 269,187.7 269.4,188.6" stroke="#004ae6" stroke-width="2.25" fill="none" stroke-linejoin="round" stroke-linecap="round"/>
<path d="M269.4,188.6 269.7,189.5 270.1,190.5 270.4,191.4 270.8,192.4 271.1,193.3 271.4,194.3 271.7,195.2 272,196.2 272.3,197.1 272.6,198.1 272.9,199.1 273.3,200 273.6,200.9 274,201.9 274.4,202.8 274.9,203.7 275.4,204.5 275.9,205.4 276.5,206.2 277.1,207 277.7,207.8 278.3,208.6" stroke="#003deb" stroke-width="2.25" fill="none" stroke-linejoin="round" stroke-linecap="butt"/>
<path d="M278.3,114.8 277.7,115.6 277.1,116.4 276.6,117.3 276.2,118.2 275.8,119.1 275.4,120 275,120.9 274.6,121.9 274.1,122.8 273.7,123.7 273.3,124.6 272.9,125.5 272.5,126.4 272.1,127.3 271.7,128.3 271.4,129.2 271,130.1 270.6,131.1 270.3,132 270,133 269.6,133.9 269.3,134.9 269,135.8 268.7,136.8 268.3,137.7 268,138.7 267.7,139.6 267.4,140.6 267.1,141.5 266.8,142.5 266.5,143.4 266.2,144.4 265.9,145.3 265.6,146.3 265.3,147.2 265,148.2 264.6,149.1 264.3,150.1 264,151.1 263.7,152 263.4,153 263.1,153.9 262.8,154.9 262.4,155.8 262.1,156.8 261.8,157.7 261.5,158.7 261.2,159.6 260.8,160.5 260.5,161.5 260.2,162.4 259.8,163.4 259.5,164.3 259.2,165.3 258.8,166.2 258.5,167.2 258.2,168.1 257.8,169 257.5,170 257.1,170.9 256.8,171.9 256.5,172.8 256.1,173.8 255.8,174.7 255.4,175.7 255.1,176.6 254.7,177.5 254.4,178.5 254.1,179.4 253.7,180.4 253.4,181.3 253,182.2 252.7,183.2 252.3,184.1 252,185.1 251.7,186 251.3,186.9 251,187.9 250.6,188.8 250.3,189.7 250,190.7 249.6,191.6 249.3,192.5 249,193.5 248.6,194.5 248.3,195.4 248,196.4 247.6,197.4 247.3,198.4 247,199.3 246.7,200.3 246.4,201.3 246,202.2 245.7,203.1 245.4,204 245.1,204.9 244.7,205.7 244.4,206.6 244,207.5 243.7,208.5 243.3,209.7 242.9,210.9 242.5,211.9 242.1,212.5 241.8,212.3 241.4,211.5 241.1,210.3 240.8,209 240.5,207.7 240.2,206.5 239.9,205.5 239.6,204.6 239.4,203.7 239.1,202.9 238.8,202.1 238.5,201.2 238.2,200.4 237.9,199.5 237.6,198.6 237.3,197.6 237,196.7 236.7,195.7 236.5,194.7 236.2,193.8 235.9,192.8 235.6,191.8 235.3,190.8 235,189.8 234.8,188.7 234.5,187.7 234.2,186.7 234,185.7 233.7,184.7 233.5,183.8 233.3,182.8 233,181.8 232.8,180.8 232.6,179.8 232.4,178.9 232.1,177.9 231.9,176.9 231.7,176 231.5,175 231.3,174 231.1,173.1 230.8,172.1 230.6,171.1 230.4,170.1 230.2,169.2 230,168.2 229.7,167.2 229.5,166.3 229.3,165.3 229,164.3 228.8,163.3 228.6,162.3 228.3,161.4 228.1,160.4 228,159.9" stroke="#000" stroke-width="3.7" fill="none" stroke-linejoin="round" stroke-linecap="round"/>
<path d="M278.3,114.8 277.7,115.6 277.1,116.4 276.6,117.3 276.2,118.2 275.8,119.1 275.4,120 275,120.9 274.6,121.9 274.1,122.8 273.7,123.7 273.3,124.6 272.9,125.5 272.5,126.4 272.1,127.3 271.7,128.3 271.4,129.2 271,130.1 270.6,131.1 270.3,132 270,133 269.6,133.9 269.3,134.9 269,135.8 268.7,136.8 268.3,137.7 268,138.7 267.7,139.6 267.4,140.6 267.1,141.5 266.8,142.5 266.5,143.4 266.2,144.4 265.9,145.3 265.6,146.3 265.3,147.2 265,148.2 264.6,149.1 264.3,150.1 264,151.1 263.7,152 263.4,153 263.1,153.9 262.8,154.9 262.4,155.8 262.1,156.8 261.8,157.7 261.5,158.7 261.2,159.6 260.8,160.5 260.5,161.5 260.2,162.4 259.8,163.4 259.5,164.3 259.2,165.3 258.8,166.2 258.5,167.2 258.2,168.1 257.8,169 257.5,170 257.1,170.9 256.8,171.9 256.5,172.8 256.1,173.8 255.8,174.7 255.4,175.7 255.1,176.6 254.7,177.5 254.4,178.5 254.1,179.4 253.7,180.4 253.4,181.3 253,182.2 252.7,183.2 252.3,184.1 252,185.1 251.7,186 251.3,186.9 251,187.9 250.6,188.8 250.3,189.7 250,190.7 249.6,191.6 249.3,192.5 249,193.5 248.6,194.5 248.3,195.4 248,196.4 247.6,197.4" stroke="#fff82c" stroke-width="2.25" fill="none" stroke-linejoin="round" stroke-linecap="butt"/>
<path d="M247.6,197.4 247.3,198.4 247,199.3 246.7,200.3" stroke="#fff620" stroke-width="2.25" fill="none" stroke-linejoin="round" stroke-linecap="round"/>
<path d="M246.7,200.3 246.4,201.3 246,202.2 245.7,203.1" stroke="#fff414" stroke-width="2.25" fill="none" stroke-linejoin="round" stroke-linecap="round"/>
<path d="M245.7,203.1 245.4,204 245.1,204.9" stroke="#fff208" stroke-width="2.25" fill="none" stroke-linejoin="round" stroke-linecap="round"/>
<path d="M245.1,204.9 244.7,205.7" stroke="#ffee00" stroke-width="2.25" fill="none" stroke-linejoin="round" stroke-linecap="round"/>
<path d="M244.7,205.7 244.4,206.6" stroke="#ffe800" stroke-width="2.25" fill="none" stroke-linejoin="round" stroke-linecap="round"/>
<path d="M244.4,206.6 244,207.5" stroke="#ffdc00" stroke-width="2.25" fill="none" stroke-linejoin="round" stroke-linecap="round"/>
<path d="M244,207.5 243.7,208.5" stroke="#ffd000" stroke-width="2.25" fill="none" stroke-linejoin="round" stroke-linecap="round"/>
<path d="M243.7,208.5 243.3,209.7" stroke="#ffbe00" stroke-width="2.25" fill="none" stroke-linejoin="round" stroke-linecap="round"/>
<path d="M243.3,209.7 242.9,210.9" stroke="#ffac00" stroke-width="2.25" fill="none" stroke-linejoin="round" stroke-linecap="round"/>
<path d="M242.9,210.9 242.5,211.9" stroke="#ff7b00" stroke-width="2.25" fill="none" stroke-linejoin="round" stroke-linecap="round"/>
<path d="M242.5,211.9 242.1,212.5" stroke="#ff4500" stroke-width="2.25" fill="none" stroke-linejoin="round" stroke-linecap="round"/>
<path d="M242.1,212.5 241.8,212.3" stroke="#ff1500" stroke-width="2.25" fill="none" stroke-linejoin="round" stroke-linecap="round"/>
<path d="M241.8,212.3 241.4,211.5" stroke="#fd0005" stroke-width="2.25" fill="none" stroke-linejoin="round" stroke-linecap="round"/>
<path d="M241.4,211.5 241.1,210.3" stroke="#e00040" stroke-width="2.25" fill="none" stroke-linejoin="round" stroke-linecap="round"/>
<path d="M241.1,210.3 240.8,209" stroke="#c30070" stroke-width="2.25" fill="none" stroke-linejoin="round" stroke-linecap="round"/>
<path d="M240.8,209 240.5,207.7" stroke="#a0009d" stroke-width="2.25" fill="none" stroke-linejoin="round" stroke-linecap="round"/>
<path d="M240.5,207.7 240.2,206.5" stroke="#8000b6" stroke-width="2.25" fill="none" stroke-linejoin="round" stroke-linecap="round"/>
<path d="M240.2,206.5 239.9,205.5" stroke="#7000c3" stroke-width="2.25" fill="none" stroke-linejoin="round" stroke-linecap="round"/>
<path d="M239.9,205.5 239.6,204.6" stroke="#6000d0" stroke-width="2.25" fill="none" stroke-linejoin="round" stroke-linecap="round"/>
<path d="M239.6,204.6 239.4,203.7" stroke="#4000e3" stroke-width="2.25" fill="none" stroke-linejoin="round" stroke-linecap="round"/>
<path d="M239.4,203.7 239.1,202.9" stroke="#3000ec" stroke-width="2.25" fill="none" stroke-linejoin="round" stroke-linecap="round"/>
<path d="M239.1,202.9 238.8,202.1" stroke="#2000f6" stroke-width="2.25" fill="none" stroke-linejoin="round" stroke-linecap="round"/>
<path d="M238.8,202.1 238.5,201.2 238.2,200.4 237.9,199.5 237.6,198.6 237.3,197.6" stroke="#1000ff" stroke-width="2.25" fill="none" stroke-linejoin="round" stroke-linecap="round"/>
<path d="M237.3,197.6 237,196.7 236.7,195.7 236.5,194.7 236.2,193.8 235.9,192.8 235.6,191.8 235.3,190.8" stroke="#0d0afc" stroke-width="2.25" fill="none" stroke-linejoin="round" stroke-linecap="round"/>
<path d="M235.3,190.8 235,189.8 234.8,188.7 234.5,187.7 234.2,186.7 234,185.7 233.7,184.7 233.5,183.8 233.3,182.8 233,181.8 232.8,180.8 232.6,179.8 232.4,178.9 232.1,177.9 231.9,176.9 231.7,176 231.5,175 231.3,174 231.1,173.1 230.8,172.1 230.6,171.1 230.4,170.1 230.2,169.2 230,168.2 229.7,167.2 229.5,166.3 229.3,165.3 229,164.3 228.8,163.3 228.6,162.3 228.3,161.4 228.1,160.4 228,159.9" stroke="#0a13f9" stroke-width="2.25" fill="none" stroke-linejoin="round" stroke-linecap="round"/>
<path d="M233.3,246.7 233.6,245.9 234,245 234.5,244.1 234.9,243.2 235.3,242.3 235.8,241.4 236.2,240.6 236.6,239.7 237,238.9 237.4,238 237.8,237.1 238.2,236.1 238.5,235 238.9,233.8 239.3,232.6 239.7,231.4 240.1,230.5 240.7,229.8 241.3,229.6 242,229.9 242.8,230.6 243.5,231.5 244.1,232.5 244.6,233.5 244.9,234.4 245.2,235.4 245.4,236.3 245.5,237.3 245.7,238.3 245.8,239.2 246,240.2 246.2,241.2 246.4,242.2 246.6,243.1 246.9,244.1 247.1,245.1 247.3,246.1 247.5,246.7" stroke="#000" stroke-width="3.7" fill="none" stroke-linejoin="round" stroke-linecap="round"/>
<path d="M233.3,246.7 233.6,245.9 234,245 234.5,244.1 234.9,243.2 235.3,242.3 235.8,241.4 236.2,240.6" stroke="#fff82c" stroke-width="2.25" fill="none" stroke-linejoin="round" stroke-linecap="butt"/>
<path d="M236.2,240.6 236.6,239.7" stroke="#fff620" stroke-width="2.25" fill="none" stroke-linejoin="round" stroke-linecap="round"/>
<path d="M236.6,239.7 237,238.9" stroke="#fff414" stroke-width="2.25" fill="none" stroke-linejoin="round" stroke-linecap="round"/>
<path d="M237,238.9 237.4,238" stroke="#fff208" stroke-width="2.25" fill="none" stroke-linejoin="round" stroke-linecap="round"/>
<path d="M237.4,238 237.8,237.1" stroke="#ffee00" stroke-width="2.25" fill="none" stroke-linejoin="round" stroke-linecap="round"/>
<path d="M237.8,237.1 238.2,236.1" stroke="#ffe800" stroke-width="2.25" fill="none" stroke-linejoin="round" stroke-linecap="round"/>
<path d="M238.2,236.1 238.5,235" stroke="#ffe200" stroke-width="2.25" fill="none" stroke-linejoin="round" stroke-linecap="round"/>
<path d="M238.5,235 238.9,233.8" stroke="#ffdc00" stroke-width="2.25" fill="none" stroke-linejoin="round" stroke-linecap="round"/>
<path d="M238.9,233.8 239.3,232.6" stroke="#ffc700" stroke-width="2.25" fill="none" stroke-linejoin="round" stroke-linecap="round"/>
<path d="M239.3,232.6 239.7,231.4" stroke="#ffac00" stroke-width="2.25" fill="none" stroke-linejoin="round" stroke-linecap="round"/>
<path d="M239.7,231.4 240.1,230.5" stroke="#ff7b00" stroke-width="2.25" fill="none" stroke-linejoin="round" stroke-linecap="round"/>
<path d="M240.1,230.5 240.7,229.8" stroke="#ff5200" stroke-width="2.25" fill="none" stroke-linejoin="round" stroke-linecap="round"/>
<path d="M240.7,229.8 241.3,229.6" stroke="#ff2900" stroke-width="2.25" fill="none" stroke-linejoin="round" stroke-linecap="round"/>
<path d="M241.3,229.6 242,229.9" stroke="#ff0500" stroke-width="2.25" fill="none" stroke-linejoin="round" stroke-linecap="round"/>
<path d="M242,229.9 242.8,230.6" stroke="#e70031" stroke-width="2.25" fill="none" stroke-linejoin="round" stroke-linecap="round"/>
<path d="M242.8,230.6 243.5,231.5" stroke="#c30070" stroke-width="2.25" fill="none" stroke-linejoin="round" stroke-linecap="round"/>
<path d="M243.5,231.5 244.1,232.5" stroke="#9000aa" stroke-width="2.25" fill="none" stroke-linejoin="round" stroke-linecap="round"/>
<path d="M244.1,232.5 244.6,233.5" stroke="#6000d0" stroke-width="2.25" fill="none" stroke-linejoin="round" stroke-linecap="round"/>
<path d="M244.6,233.5 244.9,234.4" stroke="#5000d9" stroke-width="2.25" fill="none" stroke-linejoin="round" stroke-linecap="round"/>
<path d="M244.9,234.4 245.2,235.4" stroke="#4000e3" stroke-width="2.25" fill="none" stroke-linejoin="round" stroke-linecap="round"/>
<path d="M245.2,235.4 245.4,236.3" stroke="#3000ec" stroke-width="2.25" fill="none" stroke-linejoin="round" stroke-linecap="round"/>
<path d="M245.4,236.3 245.5,237.3" stroke="#2000f6" stroke-width="2.25" fill="none" stroke-linejoin="round" stroke-linecap="round"/>
<path d="M245.5,237.3 245.7,238.3" stroke="#1000ff" stroke-width="2.25" fill="none" stroke-linejoin="round" stroke-linecap="round"/>
<path d="M245.7,238.3 245.8,239.2 246,240.2 246.2,241.2 246.4,242.2 246.6,243.1 246.9,244.1 247.1,245.1 247.3,246.1" stroke="#0a13f9" stroke-width="2.25" fill="none" stroke-linejoin="round" stroke-linecap="round"/>
<path d="M247.3,246.1 247.5,246.7" stroke="#061df6" stroke-width="2.25" fill="none" stroke-linejoin="round" stroke-linecap="butt"/>
<path d="M75.2,246.7 75.5,246.2 76.2,245.4 76.8,244.6 77.4,243.8 78,243 78.7,242.3 79.3,241.5 80,240.7 80.7,240 81.4,239.3 82.1,238.6 82.8,237.9 83.6,237.2 84.4,236.6 85.2,236 86,235.5 86.9,234.9 87.8,234.5 88.7,234 89.6,233.7 90.6,233.3 91.6,233.1 92.5,232.9 93.5,232.7 94.6,232.7 95.6,232.7 96.6,232.8 97.5,233.1 98.5,233.5 99.3,234 100.2,234.6 100.9,235.2 101.6,235.9 102.3,236.7 103,237.4 103.7,238.1 104.4,238.8 105.2,239.5 106,240.1 106.7,240.8 107.5,241.4 108.3,242.1 109,242.8 109.6,243.5 110.2,244.3 110.8,245.2 111.3,246 111.7,246.7" stroke="#000" stroke-width="3.7" fill="none" stroke-linejoin="round" stroke-linecap="round"/>
<path d="M75.2,246.7 75.5,246.2 76.2,245.4 76.8,244.6 77.4,243.8" stroke="#0070d8" stroke-width="2.25" fill="none" stroke-linejoin="round" stroke-linecap="butt"/>
<path d="M77.4,243.8 78,243 78.7,242.3 79.3,241.5 80,240.7 80.7,240 81.4,239.3 82.1,238.6 82.8,237.9 83.6,237.2 84.4,236.6 85.2,236" stroke="#0063dd" stroke-width="2.25" fill="none" stroke-linejoin="round" stroke-linecap="round"/>
<path d="M85.2,236 86,235.5 86.9,234.9 87.8,234.5 88.7,234" stroke="#0056e2" stroke-width="2.25" fill="none" stroke-linejoin="round" stroke-linecap="round"/>
<path d="M88.7,234 89.6,233.7 90.6,233.3 91.6,233.1 92.5,232.9" stroke="#004ae6" stroke-width="2.25" fill="none" stroke-linejoin="round" stroke-linecap="round"/>
<path d="M92.5,232.9 93.5,232.7 94.6,232.7 95.6,232.7" stroke="#003deb" stroke-width="2.25" fill="none" stroke-linejoin="round" stroke-linecap="round"/>
<path d="M95.6,232.7 96.6,232.8 97.5,233.1 98.5,233.5 99.3,234" stroke="#0030f0" stroke-width="2.25" fill="none" stroke-linejoin="round" stroke-linecap="round"/>
<path d="M99.3,234 100.2,234.6 100.9,235.2 101.6,235.9 102.3,236.7 103,237.4" stroke="#0326f3" stroke-width="2.25" fill="none" stroke-linejoin="round" stroke-linecap="round"/>
<path d="M103,237.4 103.7,238.1 104.4,238.8 105.2,239.5 106,240.1 106.7,240.8 107.5,241.4 108.3,242.1 109,242.8 109.6,243.5 110.2,244.3 110.8,245.2 111.3,246 111.7,246.7" stroke="#061df6" stroke-width="2.25" fill="none" stroke-linejoin="round" stroke-linecap="butt"/>
<path d="M102.3,246.7 102.5,246 102.8,245.1 103.1,244.1 103.6,243.2 104.1,242.3 104.8,241.5 105.5,240.8 106.3,240.2" stroke="#000" stroke-width="3.7" fill="none" stroke-linejoin="round" stroke-linecap="round"/>
<path d="M102.3,246.7 102.5,246 102.8,245.1 103.1,244.1 103.6,243.2 104.1,242.3 104.8,241.5 105.5,240.8 106.3,240.2" stroke="#061df6" stroke-width="2.25" fill="none" stroke-linejoin="round" stroke-linecap="butt"/>
<path d="M34.5,50.2 35.5,49.9 36.4,49.5 37.1,48.8 37.7,48 38.3,47.1 38.8,46.3 39.3,45.4 39.8,44.5 40.2,43.6 40.6,42.6 40.9,41.7 41.3,40.7 41.6,39.8 41.9,38.8 42.2,37.9 42.5,36.9 42.7,35.9 43,34.9 43.2,34 43.4,33 43.6,32 43.8,31 44,30 44.2,29 44.4,28 44.6,27 44.9,26.1 45.2,25.1 45.4,24.1 45.7,23.2 46,22.2 46.3,21.2 46.5,20.2 46.8,19.3 47,18.3 47.3,17.3 47.5,16.3 47.7,15.4 47.9,14.4 48.1,13.4 48.3,12.4 48.5,11.4 48.7,10.4 48.9,9.4 49.1,8.4 49.3,7.4 49.4,6.4 49.6,5.5 49.8,4.5 49.9,3.5 50.1,2.5 50.2,2" stroke="#000" stroke-width="3.7" fill="none" stroke-linejoin="round" stroke-linecap="round"/>
<path d="M34.5,50.2 35.5,49.9 36.4,49.5 37.1,48.8 37.7,48 38.3,47.1 38.8,46.3 39.3,45.4 39.8,44.5 40.2,43.6 40.6,42.6 40.9,41.7 41.3,40.7 41.6,39.8 41.9,38.8 42.2,37.9 42.5,36.9 42.7,35.9 43,34.9 43.2,34 43.4,33 43.6,32 43.8,31 44,30 44.2,29 44.4,28 44.6,27 44.9,26.1 45.2,25.1 45.4,24.1 45.7,23.2 46,22.2 46.3,21.2 46.5,20.2 46.8,19.3 47,18.3 47.3,17.3 47.5,16.3 47.7,15.4 47.9,14.4 48.1,13.4 48.3,12.4 48.5,11.4 48.7,10.4 48.9,9.4 49.1,8.4 49.3,7.4 49.4,6.4 49.6,5.5 49.8,4.5 49.9,3.5 50.1,2.5 50.2,2" stroke="#0092ce" stroke-width="2.25" fill="none" stroke-linejoin="round" stroke-linecap="butt"/>
<path d="M77.2,2 77.4,2.9 77.6,3.9 77.8,4.8 78.1,5.8 78.3,6.8 78.5,7.8 78.7,8.7 78.9,9.7 79.2,10.7 79.4,11.7 79.6,12.6 79.8,13.6 80.1,14.6 80.3,15.6 80.5,16.5 80.8,17.5 81,18.5 81.3,19.5 81.5,20.4 81.7,21.4 82,22.4 82.2,23.3 82.5,24.3 82.8,25.3 83,26.2 83.3,27.2 83.6,28.1 84,29.1 84.3,30 84.6,31 84.9,31.9 85.3,32.9 85.6,33.8 85.9,34.8 86.2,35.7 86.5,36.7 86.8,37.7 87.1,38.6 87.3,39.6 87.6,40.5 87.9,41.5 88.2,42.4 88.6,43.4 88.9,44.3 89.3,45.2 89.7,46.2 90.1,47.1 90.4,48 90.8,48.9 91.2,49.9 91.6,50.8 92.1,51.7 92.5,52.6 92.9,53.5 93.3,54.4 93.8,55.3 94.3,56.2 94.8,57.1 95.3,57.9 95.8,58.7 96.4,59.6 96.9,60.4 97.5,61.2 98.2,62.1 98.8,62.9 99.6,63.6 100.4,64.2 101.3,64.6 102.2,64.7 103.3,64.6 104.3,64.3 105.2,63.8 106,63.3" stroke="#000" stroke-width="3.7" fill="none" stroke-linejoin="round" stroke-linecap="round"/>
<path d="M77.2,2 77.4,2.9 77.6,3.9 77.8,4.8 78.1,5.8 78.3,6.8 78.5,7.8 78.7,8.7 78.9,9.7 79.2,10.7 79.4,11.7 79.6,12.6 79.8,13.6 80.1,14.6 80.3,15.6 80.5,16.5 80.8,17.5 81,18.5 81.3,19.5 81.5,20.4 81.7,21.4 82,22.4 82.2,23.3 82.5,24.3 82.8,25.3 83,26.2 83.3,27.2 83.6,28.1 84,29.1 84.3,30 84.6,31 84.9,31.9 85.3,32.9 85.6,33.8 85.9,34.8 86.2,35.7 86.5,36.7 86.8,37.7 87.1,38.6 87.3,39.6 87.6,40.5 87.9,41.5 88.2,42.4 88.6,43.4 88.9,44.3 89.3,45.2 89.7,46.2 90.1,47.1 90.4,48 90.8,48.9 91.2,49.9 91.6,50.8 92.1,51.7 92.5,52.6" stroke="#0056e2" stroke-width="2.25" fill="none" stroke-linejoin="round" stroke-linecap="butt"/>
<path d="M92.5,52.6 92.9,53.5 93.3,54.4 93.8,55.3 94.3,56.2 94.8,57.1 95.3,57.9 95.8,58.7 96.4,59.6 96.9,60.4 97.5,61.2 98.2,62.1 98.8,62.9" stroke="#0063dd" stroke-width="2.25" fill="none" stroke-linejoin="round" stroke-linecap="round"/>
<path d="M98.8,62.9 99.6,63.6 100.4,64.2 101.3,64.6 102.2,64.7 103.3,64.6 104.3,64.3 105.2,63.8 106,63.3" stroke="#0070d8" stroke-width="2.25" fill="none" stroke-linejoin="round" stroke-linecap="round"/>
<path d="M34.5,90.4 35.5,90.3 36.5,90.2 37.5,90 38.4,89.8 39.4,89.4 40.3,89.1 41.3,88.7 42.2,88.3 43.1,87.9 44,87.4 44.9,86.9 45.7,86.4 46.6,85.9 47.4,85.3 48.2,84.7 49,84.1 49.7,83.4 50.5,82.8 51.3,82.1 52,81.5 52.8,80.8 53.5,80.1 54.2,79.4 55,78.7 55.7,78 56.4,77.3 57.1,76.6 57.8,75.9 58.5,75.2 59.1,74.4 59.8,73.7 60.4,72.9 61,72.1 61.6,71.3 62.2,70.4 62.7,69.6 63.3,68.7 63.8,67.9 64.3,67.1 64.9,66.2 65.4,65.4 65.9,64.5 66.5,63.7 67,62.8 67.5,62 68.1,61.1 68.6,60.2 69.1,59.4 69.6,58.5 70.1,57.7 70.6,56.8 71.1,55.9 71.6,55 72,54.2 72.5,53.3 73,52.4 73.5,51.5 73.9,50.6 74.4,49.7 74.9,48.8 75.3,48 75.8,47.1 76.2,46.2 76.7,45.3 77.1,44.4 77.5,43.5 78,42.6 78.4,41.6 78.8,40.7 79.2,39.8 79.6,38.9 80,38 80.4,37.1 80.8,36.1 81.2,35.2 81.6,34.3 82,33.4 82.4,32.5 82.9,31.6 83.4,30.7 83.9,29.8 84.4,29 85,28.2 85.8,27.5 86.6,27.1 87.7,27.1 88.6,27.5 89.2,28.3 89.8,29.1 90.2,30 90.7,30.9 91.1,31.8 91.4,32.8 91.8,33.7 92.1,34.6 92.5,35.6 92.8,36.5 93.1,37.5 93.5,38.4 93.8,39.4 94.2,40.3 94.5,41.2 94.9,42.2 95.3,43.1 95.6,44 96,45 96.4,45.9 96.7,46.8 97.1,47.8 97.5,48.7 97.9,49.6 98.3,50.5 98.7,51.4 99.1,52.3 99.5,53.3 100,54.2 100.4,55.1 100.8,56 101.3,56.9 101.7,57.8 102.2,58.7 102.7,59.5 103.3,60.3 103.9,61.1 104.6,61.9 105.2,62.6 105.9,63.4 106.6,64.1 107.3,64.8 108,65.6 108.7,66.3 109.4,67 110.1,67.7 110.8,68.4 111.6,69 112.4,69.6 113.2,70.2 114.1,70.7 115.1,71.1 116.1,71.3 117.1,71.3 118,71 118.9,70.5 119.6,69.8 120.3,69 120.8,68.1 121.2,67.2 121.6,66.3 122,65.3 122.4,64.4 122.8,63.5 123.2,62.6 123.6,61.6 124,60.7 124.4,59.8 124.8,58.9 125.2,58 125.6,57.1 126,56.1 126.3,55.2 126.7,54.3 127,53.3 127.3,52.4 127.7,51.4 128,50.5 128.3,49.5 128.6,48.6 128.9,47.6 129.2,46.7 129.5,45.7 129.8,44.7 130.1,43.8 130.5,42.9 130.8,41.9 131.1,41 131.5,40 131.8,39.1 132.1,38.1 132.4,37.2 132.7,36.2 132.9,35.2 133.2,34.3 133.4,33.3 133.7,32.3 133.9,31.3 134.1,30.4 134.4,29.4 134.6,28.4 134.9,27.5 135.2,26.5 135.5,25.6 135.8,24.6 136.1,23.7 136.5,22.7 136.8,21.7 137.1,20.8 137.5,19.9 137.8,18.9 138.2,18 138.6,17.1 139,16.2 139.4,15.2 139.8,14.3 140.3,13.5 140.9,12.6 141.6,11.9 142.5,11.3 143.4,10.9 144.3,10.6 145.3,10.6 146.3,10.7 147.2,11 148.2,11.4 149.1,11.9 150.1,12.4 151,12.9 152,13.4 153,13.9 153.9,14.2 154.9,14.5 155.8,14.6 156.8,14.7 157.7,14.5 158.6,14.2 159.6,13.8 160.4,13.3 161.3,12.7 162.1,12 162.9,11.3 163.6,10.6 164.3,9.9 165,9.2 165.7,8.4 166.3,7.7 166.9,6.9 167.5,6.1 168.1,5.3 168.7,4.5 169.2,3.6 169.8,2.8 170.3,2" stroke="#000" stroke-width="3.7" fill="none" stroke-linejoin="round" stroke-linecap="round"/>
<path d="M34.5,90.4 35.5,90.3 36.5,90.2 37.5,90 38.4,89.8 39.4,89.4 40.3,89.1 41.3,88.7 42.2,88.3 43.1,87.9 44,87.4 44.9,86.9 45.7,86.4 46.6,85.9 47.4,85.3 48.2,84.7 49,84.1 49.7,83.4 50.5,82.8 51.3,82.1 52,81.5 52.8,80.8 53.5,80.1 54.2,79.4 55,78.7 55.7,78 56.4,77.3 57.1,76.6 57.8,75.9 58.5,75.2 59.1,74.4 59.8,73.7 60.4,72.9 61,72.1 61.6,71.3 62.2,70.4 62.7,69.6 63.3,68.7 63.8,67.9 64.3,67.1 64.9,66.2 65.4,65.4 65.9,64.5 66.5,63.7 67,62.8 67.5,62 68.1,61.1 68.6,60.2 69.1,59.4 69.6,58.5 70.1,57.7 70.6,56.8 71.1,55.9 71.6,55 72,54.2 72.5,53.3 73,52.4 73.5,51.5 73.9,50.6 74.4,49.7 74.9,48.8 75.3,48 75.8,47.1 76.2,46.2 76.7,45.3 77.1,44.4 77.5,43.5 78,42.6 78.4,41.6 78.8,40.7 79.2,39.8 79.6,38.9 80,38 80.4,37.1 80.8,36.1 81.2,35.2" stroke="#ff9700" stroke-width="2.25" fill="none" stroke-linejoin="round" stroke-linecap="butt"/>
<path d="M81.2,35.2 81.6,34.3 82,33.4 82.4,32.5 82.9,31.6" stroke="#ff8900" stroke-width="2.25" fill="none" stroke-linejoin="round" stroke-linecap="round"/>
<path d="M82.9,31.6 83.4,30.7" stroke="#ff7b00" stroke-width="2.25" fill="none" stroke-linejoin="round" stroke-linecap="round"/>
<path d="M83.4,30.7 83.9,29.8" stroke="#ff1500" stroke-width="2.25" fill="none" stroke-linejoin="round" stroke-linecap="round"/>
<path d="M83.9,29.8 84.4,29 85,28.2 85.8,27.5" stroke="#ff0500" stroke-width="2.25" fill="none" stroke-linejoin="round" stroke-linecap="round"/>
<path d="M85.8,27.5 86.6,27.1" stroke="#5000d9" stroke-width="2.25" fill="none" stroke-linejoin="round" stroke-linecap="round"/>
<path d="M86.6,27.1 87.7,27.1" stroke="#004ae6" stroke-width="2.25" fill="none" stroke-linejoin="round" stroke-linecap="round"/>
<path d="M87.7,27.1 88.6,27.5 89.2,28.3 89.8,29.1 90.2,30 90.7,30.9 91.1,31.8 91.4,32.8 91.8,33.7 92.1,34.6 92.5,35.6 92.8,36.5" stroke="#0056e2" stroke-width="2.25" fill="none" stroke-linejoin="round" stroke-linecap="round"/>
<path d="M92.8,36.5 93.1,37.5 93.5,38.4 93.8,39.4 94.2,40.3 94.5,41.2 94.9,42.2 95.3,43.1 95.6,44 96,45 96.4,45.9" stroke="#0063dd" stroke-width="2.25" fill="none" stroke-linejoin="round" stroke-linecap="round"/>
<path d="M96.4,45.9 96.7,46.8 97.1,47.8 97.5,48.7 97.9,49.6 98.3,50.5 98.7,51.4 99.1,52.3 99.5,53.3 100,54.2 100.4,55.1 100.8,56 101.3,56.9 101.7,57.8 102.2,58.7" stroke="#0070d8" stroke-width="2.25" fill="none" stroke-linejoin="round" stroke-linecap="round"/>
<path d="M102.2,58.7 102.7,59.5 103.3,60.3 103.9,61.1 104.6,61.9 105.2,62.6 105.9,63.4 106.6,64.1 107.3,64.8 108,65.6" stroke="#007bd5" stroke-width="2.25" fill="none" stroke-linejoin="round" stroke-linecap="round"/>
<path d="M108,65.6 108.7,66.3 109.4,67 110.1,67.7 110.8,68.4 111.6,69 112.4,69.6 113.2,70.2 114.1,70.7 115.1,71.1 116.1,71.3 117.1,71.3" stroke="#0070d8" stroke-width="2.25" fill="none" stroke-linejoin="round" stroke-linecap="round"/>
<path d="M117.1,71.3 118,71 118.9,70.5" stroke="#0063dd" stroke-width="2.25" fill="none" stroke-linejoin="round" stroke-linecap="round"/>
<path d="M118.9,70.5 119.6,69.8 120.3,69 120.8,68.1" stroke="#0056e2" stroke-width="2.25" fill="none" stroke-linejoin="round" stroke-linecap="round"/>
<path d="M120.8,68.1 121.2,67.2 121.6,66.3 122,65.3 122.4,64.4" stroke="#004ae6" stroke-width="2.25" fill="none" stroke-linejoin="round" stroke-linecap="round"/>
<path d="M122.4,64.4 122.8,63.5 123.2,62.6 123.6,61.6 124,60.7" stroke="#003deb" stroke-width="2.25" fill="none" stroke-linejoin="round" stroke-linecap="round"/>
<path d="M124,60.7 124.4,59.8 124.8,58.9 125.2,58 125.6,57.1" stroke="#0030f0" stroke-width="2.25" fill="none" stroke-linejoin="round" stroke-linecap="round"/>
<path d="M125.6,57.1 126,56.1 126.3,55.2 126.7,54.3 127,53.3 127.3,52.4 127.7,51.4" stroke="#0326f3" stroke-width="2.25" fill="none" stroke-linejoin="round" stroke-linecap="round"/>
<path d="M127.7,51.4 128,50.5 128.3,49.5 128.6,48.6 128.9,47.6 129.2,46.7 129.5,45.7" stroke="#061df6" stroke-width="2.25" fill="none" stroke-linejoin="round" stroke-linecap="round"/>
<path d="M129.5,45.7 129.8,44.7 130.1,43.8 130.5,42.9 130.8,41.9 131.1,41 131.5,40 131.8,39.1 132.1,38.1 132.4,37.2 132.7,36.2 132.9,35.2 133.2,34.3 133.4,33.3" stroke="#0a13f9" stroke-width="2.25" fill="none" stroke-linejoin="round" stroke-linecap="round"/>
<path d="M133.4,33.3 133.7,32.3 133.9,31.3 134.1,30.4 134.4,29.4 134.6,28.4" stroke="#0d0afc" stroke-width="2.25" fill="none" stroke-linejoin="round" stroke-linecap="round"/>
<path d="M134.6,28.4 134.9,27.5" stroke="#1000ff" stroke-width="2.25" fill="none" stroke-linejoin="round" stroke-linecap="round"/>
<path d="M134.9,27.5 135.2,26.5" stroke="#3000ec" stroke-width="2.25" fill="none" stroke-linejoin="round" stroke-linecap="round"/>
<path d="M135.2,26.5 135.5,25.6" stroke="#4000e3" stroke-width="2.25" fill="none" stroke-linejoin="round" stroke-linecap="round"/>
<path d="M135.5,25.6 135.8,24.6" stroke="#5000d9" stroke-width="2.25" fill="none" stroke-linejoin="round" stroke-linecap="round"/>
<path d="M135.8,24.6 136.1,23.7" stroke="#6000d0" stroke-width="2.25" fill="none" stroke-linejoin="round" stroke-linecap="round"/>
<path d="M136.1,23.7 136.5,22.7" stroke="#7000c3" stroke-width="2.25" fill="none" stroke-linejoin="round" stroke-linecap="round"/>
<path d="M136.5,22.7 136.8,21.7" stroke="#a0009d" stroke-width="2.25" fill="none" stroke-linejoin="round" stroke-linecap="round"/>
<path d="M136.8,21.7 137.1,20.8" stroke="#ba0080" stroke-width="2.25" fill="none" stroke-linejoin="round" stroke-linecap="round"/>
<path d="M137.1,20.8 137.5,19.9" stroke="#cd0060" stroke-width="2.25" fill="none" stroke-linejoin="round" stroke-linecap="round"/>
<path d="M137.5,19.9 137.8,18.9" stroke="#e00040" stroke-width="2.25" fill="none" stroke-linejoin="round" stroke-linecap="round"/>
<path d="M137.8,18.9 138.2,18" stroke="#ee0022" stroke-width="2.25" fill="none" stroke-linejoin="round" stroke-linecap="round"/>
<path d="M138.2,18 138.6,17.1" stroke="#f50014" stroke-width="2.25" fill="none" stroke-linejoin="round" stroke-linecap="round"/>
<path d="M138.6,17.1 139,16.2" stroke="#ff0500" stroke-width="2.25" fill="none" stroke-linejoin="round" stroke-linecap="round"/>
<path d="M139,16.2 139.4,15.2" stroke="#ff0d00" stroke-width="2.25" fill="none" stroke-linejoin="round" stroke-linecap="round"/>
<path d="M139.4,15.2 139.8,14.3 140.3,13.5 140.9,12.6" stroke="#ff1d00" stroke-width="2.25" fill="none" stroke-linejoin="round" stroke-linecap="round"/>
<path d="M140.9,12.6 141.6,11.9 142.5,11.3 143.4,10.9 144.3,10.6" stroke="#ff2900" stroke-width="2.25" fill="none" stroke-linejoin="round" stroke-linecap="round"/>
<path d="M144.3,10.6 145.3,10.6 146.3,10.7 147.2,11 148.2,11.4 149.1,11.9 150.1,12.4 151,12.9 152,13.4 153,13.9 153.9,14.2 154.9,14.5 155.8,14.6 156.8,14.7 157.7,14.5 158.6,14.2 159.6,13.8 160.4,13.3 161.3,12.7 162.1,12 162.9,11.3 163.6,10.6 164.3,9.9" stroke="#ff3700" stroke-width="2.25" fill="none" stroke-linejoin="round" stroke-linecap="round"/>
<path d="M164.3,9.9 165,9.2 165.7,8.4 166.3,7.7 166.9,6.9 167.5,6.1 168.1,5.3 168.7,4.5 169.2,3.6 169.8,2.8" stroke="#ff4500" stroke-width="2.25" fill="none" stroke-linejoin="round" stroke-linecap="round"/>
<path d="M169.8,2.8 170.3,2" stroke="#ff5200" stroke-width="2.25" fill="none" stroke-linejoin="round" stroke-linecap="butt"/>
<path d="M53.8,2 54,2.9 54.2,3.9 54.4,4.8 54.6,5.8 54.8,6.8 55,7.8 55.2,8.8 55.3,9.8 55.5,10.7 55.7,11.7 55.9,12.7 56.1,13.7 56.3,14.7 56.6,15.7 56.8,16.6 57,17.6 57.2,18.6 57.5,19.5 57.7,20.5 58,21.5 58.3,22.5 58.5,23.4 58.8,24.4 59.1,25.3 59.4,26.3 59.7,27.3 60,28.2 60.2,29.2 60.5,30.2 60.7,31.1 60.9,32.1 61.1,33.1 61.4,34.1 61.6,35 61.9,36 62.1,37 62.4,37.9 62.7,38.9 63,39.8 63.3,40.8 63.6,41.7 63.9,42.7 64.2,43.7 64.5,44.6 64.7,45.6 65,46.6 65.2,47.5 65.4,48.5 65.6,49.5 65.8,50.5 66,51.5 66.3,52.4 66.5,53.4 66.8,54.4 67.1,55.3 67.4,56.3 67.7,57.2 68,58.2 68.4,59.1 68.8,60 69.1,61 69.5,61.9 69.9,62.8 70.3,63.7 70.7,64.6 71.2,65.6 71.6,66.5 72,67.4 72.4,68.3 72.8,69.2 73.3,70.1 73.7,71 74.2,71.9 74.7,72.7 75.2,73.6 75.8,74.4 76.3,75.3 76.9,76.1 77.6,76.8 78.3,77.6 79,78.2 79.8,78.9 80.7,79.4 81.6,79.8 82.5,80.2 83.5,80.3 84.5,80.2 85.5,80 86.4,79.5 87.3,79 88.1,78.3 88.8,77.7 89.5,76.9 90.1,76.1 90.7,75.3 91.2,74.5 91.7,73.6 92.1,72.7 92.5,71.8 92.9,70.9 93.4,69.9 93.8,69 94.2,68.1 94.7,67.2 95.2,66.3 95.6,65.5 96.1,64.6 96.6,63.7 97,62.8 97.4,61.9 97.8,61 98.2,60.1 98.6,59.1 99,58.2 99.4,57.3 99.8,56.3 100.1,55.4 100.5,54.5 100.9,53.5 101.2,52.6 101.6,51.7 102,50.7 102.3,49.8 102.7,48.9 103,47.9 103.3,47 103.6,46 103.9,45.1 104.2,44.1 104.4,43.1 104.6,42.1 104.9,41.2 105.1,40.2 105.3,39.2 105.6,38.3 105.9,37.3 106.2,36.4 106.6,35.4 106.9,34.5 107.3,33.6 107.8,32.7 108.2,31.8 108.6,30.8 109,29.9 109.4,29 109.8,28.1 110.2,27.2 110.6,26.3 111,25.3 111.3,24.4 111.7,23.5 112,22.5 112.4,21.6 112.7,20.6 113,19.7 113.3,18.7 113.6,17.8 113.9,16.8 114.2,15.8 114.4,14.9 114.7,13.9 115,12.9 115.3,12 115.6,11 115.8,10.1 116.1,9.1 116.4,8.1 116.7,7.2 116.9,6.2 117.2,5.2 117.5,4.3 117.7,3.3 118,2.3 118.1,2" stroke="#000" stroke-width="3.7" fill="none" stroke-linejoin="round" stroke-linecap="round"/>
<path d="M53.8,2 54,2.9 54.2,3.9 54.4,4.8 54.6,5.8 54.8,6.8 55,7.8 55.2,8.8 55.3,9.8 55.5,10.7 55.7,11.7 55.9,12.7 56.1,13.7 56.3,14.7 56.6,15.7 56.8,16.6 57,17.6 57.2,18.6 57.5,19.5 57.7,20.5 58,21.5 58.3,22.5 58.5,23.4 58.8,24.4 59.1,25.3 59.4,26.3 59.7,27.3 60,28.2 60.2,29.2 60.5,30.2 60.7,31.1 60.9,32.1 61.1,33.1 61.4,34.1 61.6,35 61.9,36 62.1,37 62.4,37.9 62.7,38.9 63,39.8 63.3,40.8 63.6,41.7 63.9,42.7 64.2,43.7 64.5,44.6 64.7,45.6 65,46.6 65.2,47.5 65.4,48.5 65.6,49.5 65.8,50.5 66,51.5 66.3,52.4 66.5,53.4 66.8,54.4 67.1,55.3 67.4,56.3 67.7,57.2 68,58.2 68.4,59.1 68.8,60 69.1,61 69.5,61.9 69.9,62.8 70.3,63.7 70.7,64.6 71.2,65.6 71.6,66.5 72,67.4 72.4,68.3 72.8,69.2 73.3,70.1 73.7,71 74.2,71.9 74.7,72.7 75.2,73.6 75.8,74.4" stroke="#00bec1" stroke-width="2.25" fill="none" stroke-linejoin="round" stroke-linecap="butt"/>
<path d="M75.8,74.4 76.3,75.3 76.9,76.1 77.6,76.8 78.3,77.6 79,78.2 79.8,78.9 80.7,79.4" stroke="#00b3c4" stroke-width="2.25" fill="none" stroke-linejoin="round" stroke-linecap="round"/>
<path d="M80.7,79.4 81.6,79.8 82.5,80.2 83.5,80.3 84.5,80.2 85.5,80" stroke="#00a8c8" stroke-width="2.25" fill="none" stroke-linejoin="round" stroke-linecap="round"/>
<path d="M85.5,80 86.4,79.5 87.3,79 88.1,78.3 88.8,77.7 89.5,76.9 90.1,76.1 90.7,75.3 91.2,74.5 91.7,73.6 92.1,72.7" stroke="#009dcb" stroke-width="2.25" fill="none" stroke-linejoin="round" stroke-linecap="round"/>
<path d="M92.1,72.7 92.5,71.8 92.9,70.9 93.4,69.9 93.8,69 94.2,68.1 94.7,67.2 95.2,66.3 95.6,65.5 96.1,64.6 96.6,63.7 97,62.8 97.4,61.9 97.8,61 98.2,60.1 98.6,59.1 99,58.2 99.4,57.3 99.8,56.3 100.1,55.4 100.5,54.5 100.9,53.5 101.2,52.6 101.6,51.7 102,50.7 102.3,49.8 102.7,48.9 103,47.9 103.3,47 103.6,46 103.9,45.1 104.2,44.1 104.4,43.1 104.6,42.1 104.9,41.2 105.1,40.2 105.3,39.2 105.6,38.3 105.9,37.3 106.2,36.4 106.6,35.4 106.9,34.5 107.3,33.6 107.8,32.7 108.2,31.8 108.6,30.8 109,29.9 109.4,29 109.8,28.1 110.2,27.2 110.6,26.3 111,25.3 111.3,24.4 111.7,23.5 112,22.5 112.4,21.6 112.7,20.6 113,19.7 113.3,18.7 113.6,17.8 113.9,16.8 114.2,15.8 114.4,14.9 114.7,13.9 115,12.9 115.3,12 115.6,11 115.8,10.1 116.1,9.1 116.4,8.1 116.7,7.2 116.9,6.2 117.2,5.2 117.5,4.3 117.7,3.3 118,2.3 118.1,2" stroke="#0092ce" stroke-width="2.25" fill="none" stroke-linejoin="round" stroke-linecap="butt"/>
<path d="M95.6,2 95.8,2.9 96.1,3.9 96.4,4.9 96.7,5.8 97,6.8 97.4,7.7 97.7,8.7 98,9.6 98.3,10.6 98.6,11.6 98.9,12.5 99.2,13.5 99.5,14.5 99.8,15.4 100.1,16.4 100.4,17.3 100.7,18.3 101,19.3 101.4,20.2 101.7,21.2 102,22.1 102.4,23 102.7,24 103,25 103.3,25.9 103.6,26.9 103.9,27.9 104.1,28.8 104.4,29.8 104.6,30.8 104.8,31.8 105,32.8 105.2,33.7 105.4,34.7 105.6,35.7 105.8,36.7 105.9,37.2" stroke="#000" stroke-width="3.7" fill="none" stroke-linejoin="round" stroke-linecap="round"/>
<path d="M95.6,2 95.8,2.9 96.1,3.9 96.4,4.9 96.7,5.8 97,6.8 97.4,7.7 97.7,8.7 98,9.6 98.3,10.6 98.6,11.6 98.9,12.5 99.2,13.5 99.5,14.5 99.8,15.4 100.1,16.4 100.4,17.3 100.7,18.3 101,19.3 101.4,20.2 101.7,21.2 102,22.1 102.4,23 102.7,24 103,25 103.3,25.9 103.6,26.9 103.9,27.9 104.1,28.8 104.4,29.8 104.6,30.8 104.8,31.8 105,32.8 105.2,33.7 105.4,34.7 105.6,35.7 105.8,36.7 105.9,37.2" stroke="#0092ce" stroke-width="2.25" fill="none" stroke-linejoin="round" stroke-linecap="butt"/>
<path d="M84.1,2 84.4,2.9 84.7,3.9 85,4.8 85.4,5.7 85.8,6.6 86.4,7.5 87.2,8.1 88.1,7.8 88.9,7.1 89.5,6.3 90.1,5.5 90.6,4.7 91.1,3.8 91.7,3 92.2,2.1 92.3,2" stroke="#000" stroke-width="3.7" fill="none" stroke-linejoin="round" stroke-linecap="round"/>
<path d="M84.1,2 84.4,2.9 84.7,3.9 85,4.8" stroke="#0326f3" stroke-width="2.25" fill="none" stroke-linejoin="round" stroke-linecap="butt"/>
<path d="M85,4.8 85.4,5.7 85.8,6.6" stroke="#061df6" stroke-width="2.25" fill="none" stroke-linejoin="round" stroke-linecap="round"/>
<path d="M85.8,6.6 86.4,7.5" stroke="#2000f6" stroke-width="2.25" fill="none" stroke-linejoin="round" stroke-linecap="round"/>
<path d="M86.4,7.5 87.2,8.1" stroke="#5000d9" stroke-width="2.25" fill="none" stroke-linejoin="round" stroke-linecap="round"/>
<path d="M87.2,8.1 88.1,7.8" stroke="#cd0060" stroke-width="2.25" fill="none" stroke-linejoin="round" stroke-linecap="round"/>
<path d="M88.1,7.8 88.9,7.1" stroke="#fd0005" stroke-width="2.25" fill="none" stroke-linejoin="round" stroke-linecap="round"/>
<path d="M88.9,7.1 89.5,6.3 90.1,5.5 90.6,4.7 91.1,3.8 91.7,3 92.2,2.1 92.3,2" stroke="#ff0d00" stroke-width="2.25" fill="none" stroke-linejoin="round" stroke-linecap="butt"/>
<path d="M228,19.7 228.9,20.1 229.8,20.6 230.7,21 231.6,21.5 232.5,22 233.4,22.5 234.2,23 235,23.6 235.8,24.2 236.6,24.8 237.4,25.5 238.2,26.1 238.9,26.8 239.7,27.5 240.4,28.1 241.1,28.8 241.9,29.5 242.6,30.2 243.3,30.9 244.1,31.6 244.8,32.3 245.5,33 246.2,33.7 247,34.4 247.7,35.1 248.4,35.8 249.2,36.5 249.9,37.1 250.6,37.8 251.3,38.5 252.1,39.2 252.8,39.9 253.5,40.6 254.2,41.3 255,42 255.6,42.8 256.2,43.6 256.7,44.5 257.3,45.3 257.8,46.2 258.3,47 258.8,47.9 259.3,48.8 259.8,49.7 260.3,50.5 260.7,51.4 261.1,52.4 261.6,53.3 262,54.2 262.4,55.1 262.7,56 263.1,57 263.5,57.9 263.9,58.8 264.3,59.8 264.7,60.7 265,61.6 265.4,62.6 265.8,63.5 266.1,64.4 266.5,65.4 266.9,66.3 267.2,67.3 267.6,68.2 267.9,69.1 268.3,70.1 268.6,71 269,72 269.3,72.9 269.7,73.9 270.1,74.8 270.4,75.7 270.8,76.7 271.2,77.6 271.6,78.5 272,79.4 272.5,80.3 272.9,81.2 273.4,82.1 273.9,83 274.3,83.9 274.8,84.7 275.4,85.6 275.9,86.5 276.4,87.3 276.9,88.2 277.5,89 278,89.9 278.3,90.3" stroke="#000" stroke-width="3.7" fill="none" stroke-linejoin="round" stroke-linecap="round"/>
<path d="M228,19.7 228.9,20.1 229.8,20.6" stroke="#0030f0" stroke-width="2.25" fill="none" stroke-linejoin="round" stroke-linecap="round"/>
<path d="M229.8,20.6 230.7,21 231.6,21.5 232.5,22 233.4,22.5" stroke="#0326f3" stroke-width="2.25" fill="none" stroke-linejoin="round" stroke-linecap="round"/>
<path d="M233.4,22.5 234.2,23 235,23.6 235.8,24.2 236.6,24.8 237.4,25.5 238.2,26.1 238.9,26.8" stroke="#061df6" stroke-width="2.25" fill="none" stroke-linejoin="round" stroke-linecap="round"/>
<path d="M238.9,26.8 239.7,27.5 240.4,28.1 241.1,28.8 241.9,29.5 242.6,30.2 243.3,30.9 244.1,31.6 244.8,32.3 245.5,33 246.2,33.7 247,34.4 247.7,35.1 248.4,35.8 249.2,36.5 249.9,37.1 250.6,37.8 251.3,38.5 252.1,39.2 252.8,39.9 253.5,40.6 254.2,41.3 255,42" stroke="#0a13f9" stroke-width="2.25" fill="none" stroke-linejoin="round" stroke-linecap="round"/>
<path d="M255,42 255.6,42.8" stroke="#2000f6" stroke-width="2.25" fill="none" stroke-linejoin="round" stroke-linecap="round"/>
<path d="M255.6,42.8 256.2,43.6" stroke="#8000b6" stroke-width="2.25" fill="none" stroke-linejoin="round" stroke-linecap="round"/>
<path d="M256.2,43.6 256.7,44.5" stroke="#ee0022" stroke-width="2.25" fill="none" stroke-linejoin="round" stroke-linecap="round"/>
<path d="M256.7,44.5 257.3,45.3" stroke="#ff0d00" stroke-width="2.25" fill="none" stroke-linejoin="round" stroke-linecap="round"/>
<path d="M257.3,45.3 257.8,46.2" stroke="#ff1d00" stroke-width="2.25" fill="none" stroke-linejoin="round" stroke-linecap="round"/>
<path d="M257.8,46.2 258.3,47" stroke="#ff4500" stroke-width="2.25" fill="none" stroke-linejoin="round" stroke-linecap="round"/>
<path d="M258.3,47 258.8,47.9" stroke="#ff6e00" stroke-width="2.25" fill="none" stroke-linejoin="round" stroke-linecap="round"/>
<path d="M258.8,47.9 259.3,48.8 259.8,49.7" stroke="#ff7b00" stroke-width="2.25" fill="none" stroke-linejoin="round" stroke-linecap="round"/>
<path d="M259.8,49.7 260.3,50.5 260.7,51.4 261.1,52.4 261.6,53.3" stroke="#ff8900" stroke-width="2.25" fill="none" stroke-linejoin="round" stroke-linecap="round"/>
<path d="M261.6,53.3 262,54.2 262.4,55.1 262.7,56 263.1,57 263.5,57.9 263.9,58.8 264.3,59.8 264.7,60.7 265,61.6 265.4,62.6 265.8,63.5 266.1,64.4 266.5,65.4 266.9,66.3 267.2,67.3 267.6,68.2 267.9,69.1 268.3,70.1 268.6,71 269,72 269.3,72.9 269.7,73.9 270.1,74.8 270.4,75.7 270.8,76.7 271.2,77.6 271.6,78.5 272,79.4 272.5,80.3 272.9,81.2 273.4,82.1 273.9,83 274.3,83.9 274.8,84.7 275.4,85.6 275.9,86.5 276.4,87.3 276.9,88.2 277.5,89 278,89.9 278.3,90.3" stroke="#ff9700" stroke-width="2.25" fill="none" stroke-linejoin="round" stroke-linecap="butt"/>
<path d="M244.3,2 244.5,2.8 244.8,3.8 245.1,4.7 245.5,5.7 245.8,6.6 246.1,7.6 246.4,8.5 246.8,9.5 247.1,10.4 247.4,11.4 247.8,12.3 248.1,13.3 248.4,14.2 248.7,15.2 249.1,16.1 249.4,17.1 249.7,18 250,19 250.3,19.9 250.6,20.9 250.9,21.8 251.2,22.8 251.5,23.7 251.8,24.7 252.1,25.7 252.4,26.6 252.7,27.6 252.9,28.5 253.2,29.5 253.5,30.5 253.8,31.4 254.1,32.4 254.4,33.3 254.6,34.3 254.9,35.3 255.2,36.2 255.6,37.2 255.9,38.1 256.2,39 256.7,40 257.2,40.8 257.9,41.6 258.6,42.2 259.4,42.9 260.2,43.5 261,44.1 261.9,44.6 262.7,45.1 263.6,45.6 264.5,46.1 265.4,46.6 266.2,47 267.1,47.5 268,47.9 269,48.2 269.9,48.5 270.9,48.8 271.9,49 272.9,49.3 273.9,49.5 274.8,49.6 275.8,49.8 276.8,50 277.8,50.1 278.3,50.2" stroke="#000" stroke-width="3.7" fill="none" stroke-linejoin="round" stroke-linecap="round"/>
<path d="M244.3,2 244.5,2.8 244.8,3.8 245.1,4.7 245.5,5.7 245.8,6.6 246.1,7.6 246.4,8.5 246.8,9.5 247.1,10.4 247.4,11.4 247.8,12.3 248.1,13.3 248.4,14.2 248.7,15.2 249.1,16.1 249.4,17.1 249.7,18 250,19 250.3,19.9 250.6,20.9 250.9,21.8 251.2,22.8 251.5,23.7 251.8,24.7 252.1,25.7 252.4,26.6 252.7,27.6 252.9,28.5 253.2,29.5 253.5,30.5 253.8,31.4 254.1,32.4 254.4,33.3 254.6,34.3 254.9,35.3 255.2,36.2" stroke="#9000aa" stroke-width="2.25" fill="none" stroke-linejoin="round" stroke-linecap="butt"/>
<path d="M255.2,36.2 255.6,37.2 255.9,38.1" stroke="#8000b6" stroke-width="2.25" fill="none" stroke-linejoin="round" stroke-linecap="round"/>
<path d="M255.9,38.1 256.2,39" stroke="#5000d9" stroke-width="2.25" fill="none" stroke-linejoin="round" stroke-linecap="round"/>
<path d="M256.2,39 256.7,40" stroke="#3000ec" stroke-width="2.25" fill="none" stroke-linejoin="round" stroke-linecap="round"/>
<path d="M256.7,40 257.2,40.8" stroke="#1000ff" stroke-width="2.25" fill="none" stroke-linejoin="round" stroke-linecap="round"/>
<path d="M257.2,40.8 257.9,41.6" stroke="#0a13f9" stroke-width="2.25" fill="none" stroke-linejoin="round" stroke-linecap="round"/>
<path d="M257.9,41.6 258.6,42.2" stroke="#0030f0" stroke-width="2.25" fill="none" stroke-linejoin="round" stroke-linecap="round"/>
<path d="M258.6,42.2 259.4,42.9" stroke="#0070d8" stroke-width="2.25" fill="none" stroke-linejoin="round" stroke-linecap="round"/>
<path d="M259.4,42.9 260.2,43.5" stroke="#0092ce" stroke-width="2.25" fill="none" stroke-linejoin="round" stroke-linecap="round"/>
<path d="M260.2,43.5 261,44.1" stroke="#0063dd" stroke-width="2.25" fill="none" stroke-linejoin="round" stroke-linecap="round"/>
<path d="M261,44.1 261.9,44.6 262.7,45.1 263.6,45.6 264.5,46.1" stroke="#003deb" stroke-width="2.25" fill="none" stroke-linejoin="round" stroke-linecap="round"/>
<path d="M264.5,46.1 265.4,46.6 266.2,47 267.1,47.5" stroke="#004ae6" stroke-width="2.25" fill="none" stroke-linejoin="round" stroke-linecap="round"/>
<path d="M267.1,47.5 268,47.9 269,48.2" stroke="#0056e2" stroke-width="2.25" fill="none" stroke-linejoin="round" stroke-linecap="round"/>
<path d="M269,48.2 269.9,48.5 270.9,48.8 271.9,49" stroke="#0063dd" stroke-width="2.25" fill="none" stroke-linejoin="round" stroke-linecap="round"/>
<path d="M271.9,49 272.9,49.3 273.9,49.5 274.8,49.6 275.8,49.8 276.8,50 277.8,50.1" stroke="#0070d8" stroke-width="2.25" fill="none" stroke-linejoin="round" stroke-linecap="round"/>
<path d="M277.8,50.1 278.3,50.2" stroke="#007bd5" stroke-width="2.25" fill="none" stroke-linejoin="round" stroke-linecap="butt"/>
<path d="M216.9,2 217.1,2.9 217.4,3.8 217.7,4.8 218,5.7 218.3,6.7 218.7,7.6 219,8.6 219.4,9.5 219.7,10.4 220.1,11.4 220.6,12.3 221,13.2 221.5,14.1 222,15 222.5,15.8 223.2,16.6 223.8,17.3 224.6,18 225.4,18.6 226.2,19.1 227.2,19.5 228.1,19.7 229.1,20 230.1,20.2 231.1,20.4 232,20.7 233,21 233.9,21.4 234.8,21.8 235.7,22.3 236.5,22.8 237.4,23.3 238.3,23.8 239.2,24.2 240.2,24.6 241.2,25 242.2,25.2 243.2,25.3 244.2,25.3 245.1,25 245.9,24.6 246.7,24 247.4,23.3 248.1,22.4 248.8,21.6 249.4,20.7 250,19.8 250.6,19 251.2,18.1 251.7,17.3 252.3,16.5 252.8,15.6 253.4,14.8 253.9,14 254.5,13.2 255,12.4 255.6,11.6 256.1,10.8 256.7,9.9 257.3,9.1 257.8,8.3 258.4,7.5 259,6.7 259.6,5.9 260.2,5 260.8,4.2 261.3,3.4 261.9,2.6 262.3,2" stroke="#000" stroke-width="3.7" fill="none" stroke-linejoin="round" stroke-linecap="round"/>
<path d="M216.9,2 217.1,2.9 217.4,3.8 217.7,4.8 218,5.7 218.3,6.7 218.7,7.6 219,8.6 219.4,9.5 219.7,10.4 220.1,11.4 220.6,12.3 221,13.2 221.5,14.1 222,15 222.5,15.8 223.2,16.6 223.8,17.3 224.6,18 225.4,18.6 226.2,19.1 227.2,19.5 228.1,19.7 229.1,20" stroke="#003deb" stroke-width="2.25" fill="none" stroke-linejoin="round" stroke-linecap="butt"/>
<path d="M229.1,20 230.1,20.2" stroke="#004ae6" stroke-width="2.25" fill="none" stroke-linejoin="round" stroke-linecap="round"/>
<path d="M230.1,20.2 231.1,20.4" stroke="#0056e2" stroke-width="2.25" fill="none" stroke-linejoin="round" stroke-linecap="round"/>
<path d="M231.1,20.4 232,20.7" stroke="#0063dd" stroke-width="2.25" fill="none" stroke-linejoin="round" stroke-linecap="round"/>
<path d="M232,20.7 233,21" stroke="#0070d8" stroke-width="2.25" fill="none" stroke-linejoin="round" stroke-linecap="round"/>
<path d="M233,21 233.9,21.4" stroke="#0086d2" stroke-width="2.25" fill="none" stroke-linejoin="round" stroke-linecap="round"/>
<path d="M233.9,21.4 234.8,21.8 235.7,22.3" stroke="#0092ce" stroke-width="2.25" fill="none" stroke-linejoin="round" stroke-linecap="round"/>
<path d="M235.7,22.3 236.5,22.8" stroke="#009dcb" stroke-width="2.25" fill="none" stroke-linejoin="round" stroke-linecap="round"/>
<path d="M236.5,22.8 237.4,23.3 238.3,23.8" stroke="#00a8c8" stroke-width="2.25" fill="none" stroke-linejoin="round" stroke-linecap="round"/>
<path d="M238.3,23.8 239.2,24.2 240.2,24.6" stroke="#00b3c4" stroke-width="2.25" fill="none" stroke-linejoin="round" stroke-linecap="round"/>
<path d="M240.2,24.6 241.2,25 242.2,25.2 243.2,25.3 244.2,25.3 245.1,25 245.9,24.6 246.7,24 247.4,23.3 248.1,22.4 248.8,21.6 249.4,20.7 250,19.8 250.6,19 251.2,18.1 251.7,17.3 252.3,16.5 252.8,15.6 253.4,14.8 253.9,14 254.5,13.2 255,12.4 255.6,11.6 256.1,10.8 256.7,9.9 257.3,9.1 257.8,8.3 258.4,7.5 259,6.7 259.6,5.9 260.2,5 260.8,4.2 261.3,3.4 261.9,2.6 262.3,2" stroke="#00bec1" stroke-width="2.25" fill="none" stroke-linejoin="round" stroke-linecap="butt"/>
</g>
<rect x="34.5" y="2.0" width="243.8" height="244.65" fill="none" stroke="#000" stroke-width="1.2"/>
<rect x="285.6" y="2.0" width="62.799999999999955" height="244.65" fill="none" stroke="#000" stroke-width="1.2"/>
<path d="M339.9,43.1 334.0,47.5 311.6,51.9 318.4,56.4 314.3,60.8 321.1,65.3 335.3,69.7 291.0,74.2 287.8,78.6 287.1,83.0 286.4,87.5 286.0,91.9 285.8,96.4 285.8,100.8 285.8,105.3 285.9,109.7 287.2,114.2 287.8,118.6 288.6,123.0 299.8,127.5 303.8,131.9 303.2,136.4 299.1,140.8 299.1,145.3 300.2,149.7 308.4,154.1" stroke="#000" stroke-width="0.9" fill="none"/>
<g fill="#fff" stroke="#000" stroke-width="0.7"><rect x="338.5" y="41.7" width="2.8" height="2.8"/><rect x="332.6" y="46.1" width="2.8" height="2.8"/><rect x="310.2" y="50.5" width="2.8" height="2.8"/><rect x="317.0" y="55.0" width="2.8" height="2.8"/><rect x="312.9" y="59.4" width="2.8" height="2.8"/><rect x="319.7" y="63.9" width="2.8" height="2.8"/><rect x="333.9" y="68.3" width="2.8" height="2.8"/><rect x="289.6" y="72.8" width="2.8" height="2.8"/><rect x="286.4" y="77.2" width="2.8" height="2.8"/><rect x="285.7" y="81.6" width="2.8" height="2.8"/><rect x="285.0" y="86.1" width="2.8" height="2.8"/><rect x="284.6" y="90.5" width="2.8" height="2.8"/><rect x="284.4" y="95.0" width="2.8" height="2.8"/><rect x="284.4" y="99.4" width="2.8" height="2.8"/><rect x="284.4" y="103.9" width="2.8" height="2.8"/><rect x="284.5" y="108.3" width="2.8" height="2.8"/><rect x="285.8" y="112.8" width="2.8" height="2.8"/><rect x="286.4" y="117.2" width="2.8" height="2.8"/><rect x="287.2" y="121.6" width="2.8" height="2.8"/><rect x="298.4" y="126.1" width="2.8" height="2.8"/><rect x="302.4" y="130.5" width="2.8" height="2.8"/><rect x="301.8" y="135.0" width="2.8" height="2.8"/><rect x="297.7" y="139.4" width="2.8" height="2.8"/><rect x="297.7" y="143.9" width="2.8" height="2.8"/><rect x="298.8" y="148.3" width="2.8" height="2.8"/><rect x="307.0" y="152.7" width="2.8" height="2.8"/><rect x="284.4" y="110.5" width="2.8" height="2.8"/><rect x="284.4" y="106.1" width="2.8" height="2.8"/><rect x="284.4" y="101.6" width="2.8" height="2.8"/><rect x="284.4" y="97.2" width="2.8" height="2.8"/><rect x="284.4" y="92.8" width="2.8" height="2.8"/><rect x="284.4" y="88.3" width="2.8" height="2.8"/></g>
<rect x="278.3" y="1.5" width="7.300000000000011" height="245.15" fill="url(#cb)" stroke="#000" stroke-width="0.6"/>
<g font-family="'Liberation Serif', 'Times New Roman', serif" fill="#000" stroke="#000" stroke-width="0.22">
<text x="31.9" y="29.7" font-size="15.4" text-anchor="end">2</text>
<text x="31.9" y="74.1" font-size="15.4" text-anchor="end">1</text>
<text x="31.9" y="118.5" font-size="15.4" text-anchor="end">0</text>
<text x="31.9" y="163.0" font-size="15.4" text-anchor="end">-1</text>
<text x="31.9" y="207.4" font-size="15.4" text-anchor="end">-2</text>
<text x="31.9" y="251.8" font-size="15.4" text-anchor="end">-3</text>
<text transform="translate(37.6,262.8) scale(1.12,1)" font-size="15" text-anchor="middle">Γ</text>
<text transform="translate(105.5,262.8) scale(1,1)" font-size="15" text-anchor="middle">X</text>
<text transform="translate(157.45,262.8) scale(1,1)" font-size="15" text-anchor="middle">S</text>
<text transform="translate(228.3,262.8) scale(1,1)" font-size="15" text-anchor="middle">Y</text>
<text transform="translate(275.6,262.8) scale(1.12,1)" font-size="15" text-anchor="middle">Γ</text>
<text x="285.4" y="260" font-size="15" text-anchor="middle">0</text>
<text x="317.6" y="260" font-size="15" text-anchor="middle">10</text>
<text x="349.3" y="260" font-size="15" text-anchor="middle">20</text>
<text x="297.6" y="273.8" font-size="15">T<tspan font-size="10.5" dy="5.4">C</tspan><tspan dy="-5.4"> (K)</tspan></text>
<text transform="translate(14.0,169.2) rotate(-90)" font-size="17.8">Energy (eV)</text>
</g>
</svg>
</body></html>
